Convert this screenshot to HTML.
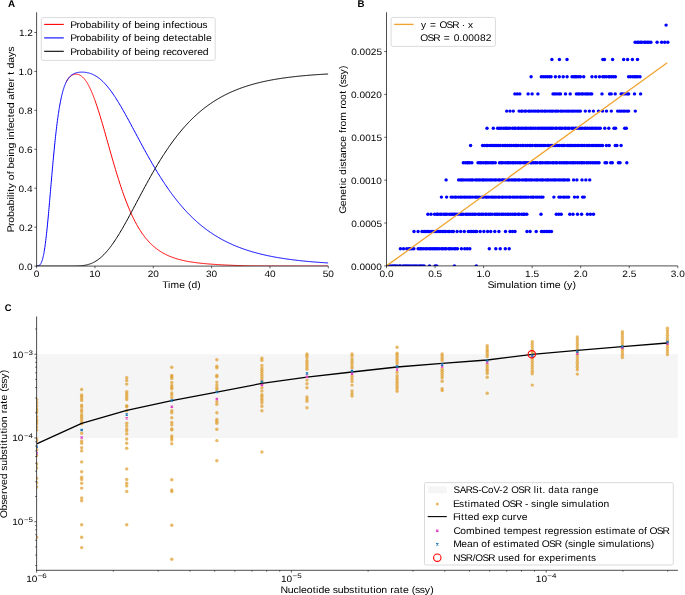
<!DOCTYPE html>
<html><head><meta charset="utf-8"><style>
html,body{margin:0;padding:0;background:#fff;width:685px;height:595px;overflow:hidden;}
svg{display:block;will-change:transform;}
text{font-family:"Liberation Sans",sans-serif;font-kerning:none;text-rendering:geometricPrecision;}
</style></head><body>
<svg width="685" height="595" viewBox="0 0 685 595">
<rect width="685" height="595" fill="#fff"/>
<defs><clipPath id="cA"><rect x="36.6" y="12.3" width="291.7" height="253.8"/></clipPath><clipPath id="cB"><rect x="386.5" y="12.3" width="291.3" height="253.6"/></clipPath><clipPath id="cC"><rect x="36.6" y="316.5" width="641.3" height="253.8"/></clipPath></defs>
<g clip-path="url(#cA)">
<polyline points="66.06,82.47 66.26,82.08 66.45,81.70 66.65,81.34 66.84,80.98 67.04,80.64 67.23,80.32 67.43,80.00 67.62,79.70 67.82,79.41 68.01,79.13 68.21,78.86 68.40,78.60 68.60,78.35 68.79,78.11 68.99,77.88 69.18,77.66 69.38,77.44 69.57,77.24 69.77,77.05 69.97,76.86 70.16,76.68 70.36,76.50 70.55,76.33 70.75,76.17 70.94,76.02 71.14,75.87 71.33,75.73 71.53,75.60 71.72,75.47 71.92,75.35 72.11,75.24 72.31,75.13 72.50,75.03 72.70,74.93 72.89,74.84 73.09,74.76 73.28,74.68 73.48,74.61 73.67,74.54 73.87,74.48 74.06,74.42 74.26,74.37 74.45,74.33 74.65,74.29 74.84,74.25 75.04,74.22 75.23,74.20 75.43,74.18 75.62,74.16 75.82,74.15 76.01,74.15 76.21,74.15 76.40,74.15 76.60,74.16 76.79,74.18 76.99,74.20 77.18,74.23 77.38,74.26 77.57,74.29 77.77,74.33 77.96,74.38 78.16,74.43 78.36,74.49 78.55,74.55 78.75,74.62 78.94,74.69 79.14,74.77 79.33,74.85 79.53,74.94 79.72,75.03 79.92,75.13 80.11,75.23 80.31,75.34 80.50,75.46 80.70,75.58 80.89,75.70 81.09,75.83 81.28,75.97 81.48,76.12 81.67,76.26 81.87,76.42 82.06,76.58 82.26,76.74 82.45,76.92 82.65,77.09 82.84,77.28 83.04,77.47 83.23,77.66 83.43,77.86 83.62,78.07 83.82,78.28 84.01,78.50 84.21,78.73 84.40,78.96 84.60,79.19 84.79,79.44 84.99,79.69 85.18,79.94 85.38,80.20 85.57,80.47 85.77,80.74 85.96,81.02 86.16,81.31 86.35,81.60 86.55,81.90 86.75,82.21 86.94,82.52 87.14,82.83 87.33,83.16 87.53,83.49 87.72,83.82 87.92,84.16 88.11,84.51 88.31,84.86 88.50,85.22 88.70,85.59 88.89,85.96 89.09,86.34 89.28,86.72 89.48,87.11 89.67,87.51 89.87,87.91 90.06,88.32 90.26,88.73 90.45,89.15 90.65,89.57 90.84,90.00 91.04,90.44 91.23,90.88 91.43,91.33 91.62,91.78 91.82,92.24 92.01,92.71 92.21,93.18 92.40,93.65 92.60,94.13 92.79,94.62 92.99,95.11 93.18,95.60 93.38,96.11 93.57,96.61 93.77,97.12 93.96,97.64 94.16,98.16 94.35,98.69 94.55,99.22 94.74,99.75 94.94,100.30 95.23,101.11 96.01,103.34 96.79,105.64 97.57,108.00 98.35,110.42 99.13,112.90 99.91,115.43 100.69,118.00 101.47,120.61 102.25,123.25 103.03,125.93 103.81,128.63 104.59,131.36 105.37,134.10 106.14,136.86 106.92,139.62 107.70,142.39 108.48,145.16 109.26,147.92 110.04,150.68 110.82,153.42 111.60,156.15 112.38,158.87 113.16,161.56 113.94,164.23 114.72,166.87 115.50,169.49 116.28,172.07 117.06,174.62 117.84,177.14 118.62,179.62 119.40,182.06 120.18,184.46 120.95,186.82 121.73,189.13 122.51,191.40 123.29,193.63 124.07,195.81 124.85,197.95 125.63,200.04 126.41,202.08 127.19,204.07 127.97,206.02 128.75,207.92 129.53,209.77 130.31,211.57 131.09,213.32 131.87,215.03 132.65,216.69 133.43,218.30 134.21,219.87 134.99,221.39 135.77,222.86 136.54,224.29 137.32,225.68 138.10,227.03 138.88,228.33 139.66,229.60 140.44,230.82 141.22,232.01 142.00,233.16 142.78,234.27 143.56,235.34 144.34,236.38 145.12,237.38 145.90,238.35 146.68,239.29 147.46,240.20 148.24,241.08 149.02,241.92 149.80,242.74 150.58,243.53 151.36,244.29 152.13,245.03 152.91,245.74 153.69,246.43 154.47,247.09 155.25,247.73 156.03,248.35 156.81,248.95 157.59,249.53 158.37,250.08 159.15,250.62 159.93,251.14 160.71,251.64 161.49,252.12 162.27,252.59 163.05,253.04 163.83,253.47 164.61,253.89 165.39,254.29 166.17,254.68 166.95,255.06 167.72,255.42 168.50,255.77 169.28,256.11 170.06,256.43 170.84,256.75 171.62,257.05 172.40,257.34 173.18,257.62 173.96,257.89 174.74,258.16 175.52,258.41 176.30,258.65 177.08,258.89 177.86,259.11 178.64,259.33 179.42,259.54 180.20,259.75 180.98,259.94 181.76,260.13 182.53,260.32 183.31,260.49 184.09,260.67 184.87,260.83 185.65,260.99 186.43,261.14 187.21,261.29 187.99,261.44 188.77,261.57 189.55,261.71 190.33,261.84 191.11,261.96 191.89,262.08 192.67,262.20 193.45,262.32 194.23,262.43 195.01,262.53 195.79,262.64 196.57,262.74 197.35,262.83 198.12,262.93 198.90,263.02 199.68,263.10 200.46,263.19 201.24,263.27 202.02,263.35 202.80,263.43 203.58,263.51 204.36,263.58 205.14,263.65 205.92,263.72 206.70,263.79 207.48,263.86 208.26,263.92 209.04,263.98 209.82,264.04 210.60,264.10 211.38,264.16 212.16,264.22 212.94,264.27 213.71,264.33 214.49,264.38 215.27,264.43 216.05,264.48 216.83,264.53 217.61,264.58 218.39,264.62 219.17,264.67 219.95,264.71 220.73,264.76 221.51,264.80 222.29,264.84 223.07,264.88 223.85,264.92 224.63,264.96 225.41,265.00 226.19,265.04 226.97,265.07 227.75,265.11 228.52,265.14 229.30,265.18 230.08,265.21 230.86,265.24 231.64,265.28 232.42,265.31 233.20,265.34 233.98,265.37 234.76,265.40 235.54,265.43 236.32,265.46 237.10,265.49 237.88,265.52 238.66,265.54 239.44,265.57 240.22,265.60 241.00,265.64 241.78,265.68 242.56,265.71 243.34,265.74 244.11,265.77 244.89,265.80 245.67,265.82 246.45,265.84 247.23,265.86 248.01,265.88 248.79,265.89 249.57,265.90 250.35,265.91 251.13,265.92 251.91,265.92 252.69,265.93 253.47,265.94 254.25,265.94 255.03,265.95 255.81,265.95 256.59,265.96 257.37,265.96 258.15,265.97 258.93,265.97 259.70,265.98 260.48,265.98 261.26,265.98 262.04,265.99 262.82,265.99 263.60,266.00 264.38,266.00 265.16,266.00 265.94,266.01 266.72,266.01 267.50,266.01 268.28,266.02 269.06,266.02 269.84,266.02 270.62,266.02 271.40,266.03 272.18,266.03 272.96,266.03 273.74,266.03 274.52,266.04 275.29,266.04 276.07,266.04 276.85,266.04 277.63,266.04 278.41,266.05 279.19,266.05 279.97,266.05 280.75,266.05 281.53,266.05 282.31,266.06 283.09,266.06 283.87,266.06 284.65,266.06 285.43,266.06 286.21,266.06 286.99,266.06 287.77,266.06 288.55,266.07 289.33,266.07 290.10,266.07 290.88,266.07 291.66,266.07 292.44,266.07 293.22,266.07 294.00,266.07 294.78,266.07 295.56,266.08 296.34,266.08 297.12,266.08 297.90,266.08 298.68,266.08 299.46,266.08 300.24,266.08 301.02,266.08 301.80,266.08 302.58,266.08 303.36,266.08 304.14,266.08 304.92,266.08 305.69,266.08 306.47,266.08 307.25,266.08 308.03,266.09 308.81,266.09 309.59,266.09 310.37,266.09 311.15,266.09 311.93,266.09 312.71,266.09 313.49,266.09 314.27,266.09 315.05,266.09 315.83,266.09 316.61,266.09 317.39,266.09 318.17,266.09 318.95,266.09 319.73,266.09 320.51,266.09 321.28,266.09 322.06,266.09 322.84,266.09 323.62,266.09 324.40,266.09 325.18,266.09 325.96,266.09 326.74,266.09 327.52,266.09 328.30,266.09" fill="none" stroke="#ff0000" stroke-width="1.0" stroke-linejoin="round" stroke-linecap="butt"/>
<polyline points="36.60,266.06 36.80,266.05 36.99,266.04 37.19,266.02 37.38,266.00 37.58,265.97 37.77,265.94 37.97,265.90 38.16,265.85 38.36,265.80 38.55,265.73 38.75,265.65 38.94,265.56 39.14,265.45 39.33,265.33 39.53,265.19 39.72,265.02 39.92,264.84 40.11,264.63 40.31,264.40 40.50,264.14 40.70,263.85 40.89,263.53 41.09,263.17 41.28,262.78 41.48,262.34 41.67,261.87 41.87,261.36 42.06,260.80 42.26,260.20 42.45,259.55 42.65,258.85 42.84,258.10 43.04,257.30 43.23,256.45 43.43,255.55 43.62,254.59 43.82,253.57 44.01,252.50 44.21,251.38 44.40,250.19 44.60,248.96 44.79,247.66 44.99,246.31 45.19,244.91 45.38,243.45 45.58,241.94 45.77,240.37 45.97,238.75 46.16,237.09 46.36,235.37 46.55,233.61 46.75,231.80 46.94,229.94 47.14,228.05 47.33,226.11 47.53,224.14 47.72,222.13 47.92,220.09 48.11,218.01 48.31,215.90 48.50,213.77 48.70,211.61 48.89,209.43 49.09,207.23 49.28,205.01 49.48,202.78 49.67,200.53 49.87,198.27 50.06,196.01 50.26,193.73 50.45,191.46 50.65,189.18 50.84,186.90 51.04,184.62 51.23,182.35 51.43,180.08 51.62,177.82 51.82,175.57 52.01,173.34 52.21,171.11 52.40,168.90 52.60,166.71 52.79,164.54 52.99,162.39 53.18,160.25 53.38,158.14 53.58,156.05 53.77,153.99 53.97,151.95 54.16,149.94 54.36,147.95 54.55,146.00 54.75,144.07 54.94,142.17 55.14,140.30 55.33,138.46 55.53,136.65 55.72,134.88 55.92,133.13 56.11,131.42 56.31,129.74 56.50,128.09 56.70,126.48 56.89,124.90 57.09,123.35 57.28,121.83 57.48,120.35 57.67,118.89 57.87,117.48 58.06,116.09 58.26,114.73 58.45,113.41 58.65,112.12 58.84,110.86 59.04,109.63 59.23,108.43 59.43,107.27 59.62,106.13 59.82,105.02 60.01,103.94 60.21,102.89 60.40,101.87 60.60,100.87 60.79,99.91 60.99,98.97 61.18,98.05 61.38,97.16 61.57,96.30 61.77,95.46 61.97,94.65 62.16,93.86 62.36,93.10 62.55,92.35 62.75,91.63 62.94,90.93 63.14,90.26 63.33,89.60 63.53,88.96 63.72,88.35 63.92,87.75 64.11,87.17 64.31,86.61 64.50,86.07 64.70,85.55 64.89,85.04 65.09,84.55 65.28,84.08 65.48,83.62 65.67,83.17 65.87,82.75 66.06,82.33 66.26,81.93 66.45,81.55 66.65,81.17 66.84,80.81 67.04,80.46 67.23,80.13 67.43,79.80 67.62,79.49 67.82,79.19 68.01,78.90 68.21,78.61 68.40,78.34 68.60,78.08 68.79,77.83 68.99,77.58 69.18,77.35 69.38,77.12 69.57,76.91 69.77,76.70 69.97,76.49 70.16,76.30 70.36,76.11 70.55,75.93 70.75,75.76 70.94,75.59 71.14,75.43 71.33,75.27 71.53,75.12 71.72,74.98 71.92,74.84 72.11,74.71 72.31,74.58 72.50,74.45 72.70,74.34 72.89,74.22 73.09,74.11 73.28,74.01 73.48,73.91 73.67,73.81 73.87,73.72 74.06,73.63 74.26,73.54 74.45,73.46 74.65,73.38 74.84,73.30 75.04,73.23 75.23,73.16 75.43,73.10 75.62,73.03 75.82,72.97 76.01,72.91 76.21,72.86 76.40,72.80 76.60,72.75 76.79,72.71 76.99,72.66 77.18,72.62 77.38,72.58 77.57,72.54 77.77,72.50 77.96,72.46 78.16,72.43 78.36,72.40 78.55,72.37 78.75,72.34 78.94,72.32 79.14,72.29 79.33,72.27 79.53,72.25 79.72,72.23 79.92,72.22 80.11,72.20 80.31,72.19 80.50,72.17 80.70,72.16 80.89,72.16 81.09,72.15 81.28,72.14 81.48,72.14 81.67,72.13 81.87,72.13 82.06,72.13 82.26,72.13 82.45,72.14 82.65,72.14 82.84,72.15 83.04,72.15 83.23,72.16 83.43,72.17 83.62,72.18 83.82,72.20 84.01,72.21 84.21,72.23 84.40,72.24 84.60,72.26 84.79,72.28 84.99,72.30 85.18,72.33 85.38,72.35 85.57,72.38 85.77,72.40 85.96,72.43 86.16,72.46 86.35,72.49 86.55,72.53 86.75,72.56 86.94,72.60 87.14,72.63 87.33,72.67 87.53,72.71 87.72,72.76 87.92,72.80 88.11,72.84 88.31,72.89 88.50,72.94 88.70,72.99 88.89,73.04 89.09,73.09 89.28,73.15 89.48,73.21 89.67,73.26 89.87,73.32 90.06,73.39 90.26,73.45 90.45,73.51 90.65,73.58 90.84,73.65 91.04,73.72 91.23,73.79 91.43,73.86 91.62,73.94 91.82,74.02 92.01,74.10 92.21,74.18 92.40,74.26 92.60,74.34 92.79,74.43 92.99,74.52 93.18,74.61 93.38,74.70 93.57,74.79 93.77,74.89 93.96,74.99 94.16,75.09 94.35,75.19 94.55,75.29 94.74,75.39 94.94,75.50 95.23,75.67 96.01,76.12 96.79,76.61 97.57,77.14 98.35,77.69 99.13,78.27 99.91,78.89 100.69,79.54 101.47,80.23 102.25,80.94 103.03,81.69 103.81,82.47 104.59,83.28 105.37,84.12 106.14,84.99 106.92,85.90 107.70,86.83 108.48,87.79 109.26,88.78 110.04,89.80 110.82,90.84 111.60,91.92 112.38,93.01 113.16,94.14 113.94,95.28 114.72,96.45 115.50,97.65 116.28,98.86 117.06,100.09 117.84,101.35 118.62,102.62 119.40,103.91 120.18,105.22 120.95,106.54 121.73,107.88 122.51,109.23 123.29,110.60 124.07,111.98 124.85,113.37 125.63,114.77 126.41,116.18 127.19,117.60 127.97,119.02 128.75,120.46 129.53,121.90 130.31,123.34 131.09,124.80 131.87,126.25 132.65,127.71 133.43,129.17 134.21,130.63 134.99,132.09 135.77,133.56 136.54,135.02 137.32,136.48 138.10,137.94 138.88,139.40 139.66,140.86 140.44,142.31 141.22,143.76 142.00,145.21 142.78,146.65 143.56,148.08 144.34,149.51 145.12,150.93 145.90,152.35 146.68,153.76 147.46,155.16 148.24,156.56 149.02,157.94 149.80,159.32 150.58,160.69 151.36,162.05 152.13,163.40 152.91,164.74 153.69,166.08 154.47,167.40 155.25,168.71 156.03,170.01 156.81,171.30 157.59,172.58 158.37,173.85 159.15,175.10 159.93,176.35 160.71,177.58 161.49,178.81 162.27,180.02 163.05,181.22 163.83,182.40 164.61,183.58 165.39,184.74 166.17,185.89 166.95,187.03 167.72,188.16 168.50,189.28 169.28,190.38 170.06,191.47 170.84,192.55 171.62,193.61 172.40,194.67 173.18,195.71 173.96,196.74 174.74,197.75 175.52,198.76 176.30,199.75 177.08,200.73 177.86,201.70 178.64,202.66 179.42,203.60 180.20,204.53 180.98,205.45 181.76,206.36 182.53,207.26 183.31,208.15 184.09,209.02 184.87,209.88 185.65,210.73 186.43,211.57 187.21,212.40 187.99,213.22 188.77,214.03 189.55,214.82 190.33,215.61 191.11,216.38 191.89,217.14 192.67,217.89 193.45,218.64 194.23,219.37 195.01,220.09 195.79,220.80 196.57,221.50 197.35,222.19 198.12,222.87 198.90,223.54 199.68,224.20 200.46,224.85 201.24,225.50 202.02,226.13 202.80,226.75 203.58,227.37 204.36,227.97 205.14,228.57 205.92,229.16 206.70,229.74 207.48,230.31 208.26,230.87 209.04,231.42 209.82,231.96 210.60,232.50 211.38,233.03 212.16,233.55 212.94,234.06 213.71,234.57 214.49,235.07 215.27,235.55 216.05,236.04 216.83,236.51 217.61,236.98 218.39,237.44 219.17,237.89 219.95,238.34 220.73,238.78 221.51,239.21 222.29,239.64 223.07,240.05 223.85,240.47 224.63,240.87 225.41,241.27 226.19,241.67 226.97,242.05 227.75,242.43 228.52,242.81 229.30,243.18 230.08,243.54 230.86,243.90 231.64,244.25 232.42,244.60 233.20,244.94 233.98,245.28 234.76,245.61 235.54,245.93 236.32,246.25 237.10,246.57 237.88,246.88 238.66,247.18 239.44,247.48 240.22,247.78 241.00,248.07 241.78,248.35 242.56,248.63 243.34,248.91 244.11,249.18 244.89,249.45 245.67,249.72 246.45,249.98 247.23,250.23 248.01,250.48 248.79,250.73 249.57,250.97 250.35,251.21 251.13,251.45 251.91,251.68 252.69,251.91 253.47,252.13 254.25,252.35 255.03,252.57 255.81,252.78 256.59,252.99 257.37,253.20 258.15,253.40 258.93,253.61 259.70,253.80 260.48,254.00 261.26,254.19 262.04,254.37 262.82,254.56 263.60,254.74 264.38,254.92 265.16,255.10 265.94,255.27 266.72,255.44 267.50,255.61 268.28,255.77 269.06,255.93 269.84,256.09 270.62,256.25 271.40,256.40 272.18,256.56 272.96,256.71 273.74,256.85 274.52,257.00 275.29,257.14 276.07,257.28 276.85,257.42 277.63,257.55 278.41,257.69 279.19,257.82 279.97,257.95 280.75,258.07 281.53,258.20 282.31,258.32 283.09,258.44 283.87,258.56 284.65,258.68 285.43,258.79 286.21,258.91 286.99,259.02 287.77,259.13 288.55,259.24 289.33,259.34 290.10,259.45 290.88,259.55 291.66,259.65 292.44,259.75 293.22,259.85 294.00,259.95 294.78,260.04 295.56,260.14 296.34,260.23 297.12,260.32 297.90,260.41 298.68,260.49 299.46,260.58 300.24,260.67 301.02,260.75 301.80,260.83 302.58,260.91 303.36,260.99 304.14,261.07 304.92,261.15 305.69,261.22 306.47,261.30 307.25,261.37 308.03,261.44 308.81,261.51 309.59,261.58 310.37,261.65 311.15,261.72 311.93,261.79 312.71,261.85 313.49,261.92 314.27,261.98 315.05,262.04 315.83,262.10 316.61,262.16 317.39,262.22 318.17,262.28 318.95,262.34 319.73,262.40 320.51,262.45 321.28,262.51 322.06,262.56 322.84,262.62 323.62,262.67 324.40,262.72 325.18,262.77 325.96,262.82 326.74,262.87 327.52,262.92 328.30,262.97" fill="none" stroke="#0000ff" stroke-width="1.0" stroke-linejoin="round" stroke-linecap="butt"/>
<polyline points="36.60,266.10 36.80,266.10 36.99,266.10 37.19,266.10 37.38,266.10 37.58,266.10 37.77,266.10 37.97,266.10 38.16,266.10 38.36,266.10 38.55,266.10 38.75,266.10 38.94,266.10 39.14,266.10 39.33,266.10 39.53,266.10 39.72,266.10 39.92,266.10 40.11,266.10 40.31,266.10 40.50,266.10 40.70,266.10 40.89,266.10 41.09,266.10 41.28,266.10 41.48,266.10 41.67,266.10 41.87,266.10 42.06,266.10 42.26,266.10 42.45,266.10 42.65,266.10 42.84,266.10 43.04,266.10 43.23,266.10 43.43,266.10 43.62,266.10 43.82,266.10 44.01,266.10 44.21,266.10 44.40,266.10 44.60,266.10 44.79,266.10 44.99,266.10 45.19,266.10 45.38,266.10 45.58,266.10 45.77,266.10 45.97,266.10 46.16,266.10 46.36,266.10 46.55,266.10 46.75,266.10 46.94,266.10 47.14,266.10 47.33,266.10 47.53,266.10 47.72,266.10 47.92,266.10 48.11,266.10 48.31,266.10 48.50,266.10 48.70,266.10 48.89,266.10 49.09,266.10 49.28,266.10 49.48,266.10 49.67,266.10 49.87,266.10 50.06,266.10 50.26,266.10 50.45,266.10 50.65,266.10 50.84,266.10 51.04,266.10 51.23,266.10 51.43,266.10 51.62,266.10 51.82,266.10 52.01,266.10 52.21,266.10 52.40,266.10 52.60,266.10 52.79,266.10 52.99,266.10 53.18,266.10 53.38,266.10 53.58,266.10 53.77,266.10 53.97,266.10 54.16,266.10 54.36,266.10 54.55,266.10 54.75,266.10 54.94,266.10 55.14,266.10 55.33,266.10 55.53,266.10 55.72,266.10 55.92,266.10 56.11,266.10 56.31,266.10 56.50,266.10 56.70,266.10 56.89,266.10 57.09,266.10 57.28,266.10 57.48,266.10 57.67,266.10 57.87,266.10 58.06,266.10 58.26,266.10 58.45,266.10 58.65,266.10 58.84,266.10 59.04,266.10 59.23,266.10 59.43,266.10 59.62,266.10 59.82,266.10 60.01,266.10 60.21,266.10 60.40,266.10 60.60,266.10 60.79,266.10 60.99,266.10 61.18,266.10 61.38,266.10 61.57,266.10 61.77,266.10 61.97,266.10 62.16,266.10 62.36,266.10 62.55,266.10 62.75,266.10 62.94,266.10 63.14,266.10 63.33,266.10 63.53,266.10 63.72,266.10 63.92,266.10 64.11,266.10 64.31,266.10 64.50,266.10 64.70,266.10 64.89,266.10 65.09,266.10 65.28,266.10 65.48,266.10 65.67,266.10 65.87,266.10 66.06,266.10 66.26,266.10 66.45,266.10 66.65,266.10 66.84,266.10 67.04,266.10 67.23,266.10 67.43,266.10 67.62,266.10 67.82,266.10 68.01,266.10 68.21,266.10 68.40,266.10 68.60,266.10 68.79,266.10 68.99,266.10 69.18,266.10 69.38,266.10 69.57,266.10 69.77,266.10 69.97,266.10 70.16,266.09 70.36,266.09 70.55,266.09 70.75,266.09 70.94,266.09 71.14,266.09 71.33,266.09 71.53,266.09 71.72,266.09 71.92,266.09 72.11,266.09 72.31,266.08 72.50,266.08 72.70,266.08 72.89,266.08 73.09,266.08 73.28,266.07 73.48,266.07 73.67,266.07 73.87,266.07 74.06,266.06 74.26,266.06 74.45,266.06 74.65,266.05 74.84,266.05 75.04,266.05 75.23,266.04 75.43,266.04 75.62,266.03 75.82,266.03 76.01,266.02 76.21,266.02 76.40,266.01 76.60,266.01 76.79,266.00 76.99,265.99 77.18,265.99 77.38,265.98 77.57,265.97 77.77,265.96 77.96,265.95 78.16,265.95 78.36,265.94 78.55,265.93 78.75,265.92 78.94,265.90 79.14,265.89 79.33,265.88 79.53,265.87 79.72,265.86 79.92,265.84 80.11,265.83 80.31,265.81 80.50,265.80 80.70,265.78 80.89,265.76 81.09,265.75 81.28,265.73 81.48,265.71 81.67,265.69 81.87,265.67 82.06,265.65 82.26,265.63 82.45,265.60 82.65,265.58 82.84,265.56 83.04,265.53 83.23,265.50 83.43,265.48 83.62,265.45 83.82,265.42 84.01,265.39 84.21,265.36 84.40,265.33 84.60,265.29 84.79,265.26 84.99,265.23 85.18,265.19 85.38,265.15 85.57,265.12 85.77,265.08 85.96,265.04 86.16,264.99 86.35,264.95 86.55,264.91 86.75,264.86 86.94,264.82 87.14,264.77 87.33,264.72 87.53,264.67 87.72,264.62 87.92,264.57 88.11,264.51 88.31,264.46 88.50,264.40 88.70,264.34 88.89,264.28 89.09,264.22 89.28,264.16 89.48,264.10 89.67,264.03 89.87,263.96 90.06,263.90 90.26,263.83 90.45,263.76 90.65,263.68 90.84,263.61 91.04,263.53 91.23,263.46 91.43,263.38 91.62,263.30 91.82,263.21 92.01,263.13 92.21,263.05 92.40,262.96 92.60,262.87 92.79,262.78 92.99,262.69 93.18,262.59 93.38,262.50 93.57,262.40 93.77,262.30 93.96,262.20 94.16,262.10 94.35,261.99 94.55,261.89 94.74,261.78 94.94,261.67 95.23,261.50 96.01,261.04 96.79,260.54 97.57,260.01 98.35,259.46 99.13,258.87 99.91,258.25 100.69,257.61 101.47,256.93 102.25,256.22 103.03,255.48 103.81,254.71 104.59,253.90 105.37,253.07 106.14,252.21 106.92,251.32 107.70,250.40 108.48,249.45 109.26,248.47 110.04,247.47 110.82,246.44 111.60,245.38 112.38,244.30 113.16,243.19 113.94,242.06 114.72,240.90 115.50,239.73 116.28,238.53 117.06,237.31 117.84,236.07 118.62,234.81 119.40,233.53 120.18,232.23 120.95,230.92 121.73,229.59 122.51,228.25 123.29,226.89 124.07,225.52 124.85,224.14 125.63,222.74 126.41,221.34 127.19,219.92 127.97,218.50 128.75,217.07 129.53,215.63 130.31,214.18 131.09,212.73 131.87,211.28 132.65,209.82 133.43,208.35 134.21,206.89 134.99,205.42 135.77,203.95 136.54,202.48 137.32,201.00 138.10,199.53 138.88,198.07 139.66,196.60 140.44,195.13 141.22,193.67 142.00,192.21 142.78,190.76 143.56,189.31 144.34,187.87 145.12,186.43 145.90,184.99 146.68,183.57 147.46,182.15 148.24,180.73 149.02,179.33 149.80,177.93 150.58,176.54 151.36,175.16 152.13,173.79 152.91,172.43 153.69,171.08 154.47,169.73 155.25,168.40 156.03,167.08 156.81,165.77 157.59,164.47 158.37,163.18 159.15,161.90 159.93,160.63 160.71,159.37 161.49,158.13 162.27,156.89 163.05,155.67 163.83,154.46 164.61,153.27 165.39,152.08 166.17,150.91 166.95,149.75 167.72,148.60 168.50,147.46 169.28,146.34 170.06,145.22 170.84,144.13 171.62,143.04 172.40,141.96 173.18,140.90 173.96,139.85 174.74,138.82 175.52,137.79 176.30,136.78 177.08,135.78 177.86,134.80 178.64,133.82 179.42,132.86 180.20,131.91 180.98,130.97 181.76,130.04 182.53,129.13 183.31,128.23 184.09,127.34 184.87,126.46 185.65,125.60 186.43,124.74 187.21,123.90 187.99,123.07 188.77,122.25 189.55,121.44 190.33,120.64 191.11,119.86 191.89,119.08 192.67,118.32 193.45,117.57 194.23,116.83 195.01,116.10 195.79,115.37 196.57,114.66 197.35,113.97 198.12,113.28 198.90,112.60 199.68,111.93 200.46,111.27 201.24,110.62 202.02,109.98 202.80,109.35 203.58,108.73 204.36,108.12 205.14,107.52 205.92,106.92 206.70,106.34 207.48,105.77 208.26,105.20 209.04,104.64 209.82,104.10 210.60,103.56 211.38,103.03 212.16,102.50 212.94,101.99 213.71,101.48 214.49,100.98 215.27,100.49 216.05,100.01 216.83,99.53 217.61,99.07 218.39,98.61 219.17,98.15 219.95,97.71 220.73,97.27 221.51,96.84 222.29,96.41 223.07,96.00 223.85,95.59 224.63,95.18 225.41,94.78 226.19,94.39 226.97,94.01 227.75,93.63 228.52,93.26 229.30,92.89 230.08,92.53 230.86,92.18 231.64,91.83 232.42,91.49 233.20,91.15 233.98,90.82 234.76,90.49 235.54,90.17 236.32,89.86 237.10,89.55 237.88,89.24 238.66,88.94 239.44,88.65 240.22,88.36 241.00,88.07 241.78,87.79 242.56,87.52 243.34,87.25 244.11,86.98 244.89,86.72 245.67,86.46 246.45,86.21 247.23,85.96 248.01,85.71 248.79,85.47 249.57,85.24 250.35,85.00 251.13,84.78 251.91,84.55 252.69,84.33 253.47,84.11 254.25,83.90 255.03,83.69 255.81,83.48 256.59,83.28 257.37,83.08 258.15,82.88 258.93,82.69 259.70,82.50 260.48,82.32 261.26,82.13 262.04,81.95 262.82,81.78 263.60,81.60 264.38,81.43 265.16,81.26 265.94,81.10 266.72,80.93 267.50,80.77 268.28,80.62 269.06,80.46 269.84,80.31 270.62,80.16 271.40,80.02 272.18,79.87 272.96,79.73 273.74,79.59 274.52,79.45 275.29,79.32 276.07,79.19 276.85,79.06 277.63,78.93 278.41,78.80 279.19,78.68 279.97,78.56 280.75,78.44 281.53,78.32 282.31,78.21 283.09,78.09 283.87,77.98 284.65,77.87 285.43,77.77 286.21,77.66 286.99,77.56 287.77,77.45 288.55,77.35 289.33,77.26 290.10,77.16 290.88,77.06 291.66,76.97 292.44,76.88 293.22,76.79 294.00,76.70 294.78,76.61 295.56,76.52 296.34,76.44 297.12,76.36 297.90,76.27 298.68,76.19 299.46,76.11 300.24,76.04 301.02,75.96 301.80,75.89 302.58,75.81 303.36,75.74 304.14,75.67 304.92,75.60 305.69,75.53 306.47,75.46 307.25,75.39 308.03,75.33 308.81,75.26 309.59,75.20 310.37,75.14 311.15,75.08 311.93,75.02 312.71,74.96 313.49,74.90 314.27,74.84 315.05,74.79 315.83,74.73 316.61,74.68 317.39,74.62 318.17,74.57 318.95,74.52 319.73,74.47 320.51,74.42 321.28,74.37 322.06,74.32 322.84,74.28 323.62,74.23 324.40,74.18 325.18,74.14 325.96,74.09 326.74,74.05 327.52,74.01 328.30,73.97" fill="none" stroke="#000000" stroke-width="1.0" stroke-linejoin="round" stroke-linecap="butt"/>
</g>
<line x1="36.6" y1="12.3" x2="36.6" y2="266.45" stroke="#000" stroke-width="0.7"/>
<line x1="36.25" y1="266.1" x2="328.3" y2="266.1" stroke="#000" stroke-width="0.7"/>
<line x1="36.6" y1="266.1" x2="36.6" y2="268.4" stroke="#000" stroke-width="0.6"/>
<text transform="translate(36.6,277.2) scale(1.0895,1)" x="-2.57" y="0" font-size="9.24" fill="#000">0</text>
<line x1="94.94" y1="266.1" x2="94.94" y2="268.4" stroke="#000" stroke-width="0.6"/>
<text transform="translate(94.94,277.2) scale(1.0895,1)" x="-5.31 -0.18" y="0" font-size="9.24" fill="#000">10</text>
<line x1="153.28" y1="266.1" x2="153.28" y2="268.4" stroke="#000" stroke-width="0.6"/>
<text transform="translate(153.28,277.2) scale(1.0895,1)" x="-5.17 -0.03" y="0" font-size="9.24" fill="#000">20</text>
<line x1="211.62" y1="266.1" x2="211.62" y2="268.4" stroke="#000" stroke-width="0.6"/>
<text transform="translate(211.62,277.2) scale(1.0895,1)" x="-5.18 -0.04" y="0" font-size="9.24" fill="#000">30</text>
<line x1="269.96" y1="266.1" x2="269.96" y2="268.4" stroke="#000" stroke-width="0.6"/>
<text transform="translate(269.96,277.2) scale(1.0895,1)" x="-5.07 0.07" y="0" font-size="9.24" fill="#000">40</text>
<line x1="328.3" y1="266.1" x2="328.3" y2="268.4" stroke="#000" stroke-width="0.6"/>
<text transform="translate(328.3,277.2) scale(1.0895,1)" x="-5.18 -0.04" y="0" font-size="9.24" fill="#000">50</text>
<line x1="34.3" y1="266.1" x2="36.6" y2="266.1" stroke="#000" stroke-width="0.6"/>
<text transform="translate(32,269.7) scale(1.0895,1)" x="-12.31 -7.17 -4.6" y="0" font-size="9.24" fill="#000">0.0</text>
<line x1="34.3" y1="227.16" x2="36.6" y2="227.16" stroke="#000" stroke-width="0.6"/>
<text transform="translate(32,230.76) scale(1.0895,1)" x="-12.04 -6.9 -4.33" y="0" font-size="9.24" fill="#000">0.2</text>
<line x1="34.3" y1="188.22" x2="36.6" y2="188.22" stroke="#000" stroke-width="0.6"/>
<text transform="translate(32,191.82) scale(1.0895,1)" x="-12.39 -7.25 -4.69" y="0" font-size="9.24" fill="#000">0.4</text>
<line x1="34.3" y1="149.28" x2="36.6" y2="149.28" stroke="#000" stroke-width="0.6"/>
<text transform="translate(32,152.88) scale(1.0895,1)" x="-12.34 -7.2 -4.63" y="0" font-size="9.24" fill="#000">0.6</text>
<line x1="34.3" y1="110.34" x2="36.6" y2="110.34" stroke="#000" stroke-width="0.6"/>
<text transform="translate(32,113.94) scale(1.0895,1)" x="-12.29 -7.15 -4.59" y="0" font-size="9.24" fill="#000">0.8</text>
<line x1="34.3" y1="71.4" x2="36.6" y2="71.4" stroke="#000" stroke-width="0.6"/>
<text transform="translate(32,75) scale(1.0895,1)" x="-12.31 -7.17 -4.6" y="0" font-size="9.24" fill="#000">1.0</text>
<line x1="34.3" y1="32.46" x2="36.6" y2="32.46" stroke="#000" stroke-width="0.6"/>
<text transform="translate(32,36.06) scale(1.0895,1)" x="-12.04 -6.9 -4.33" y="0" font-size="9.24" fill="#000">1.2</text>
<text transform="translate(181.3,288.4) scale(1.0696,1)" x="-17.86 -12.44 -10.02 -1.87 3.47 6.24 9.56 15.02" y="0" font-size="9.63" fill="#000">Time (d)</text>
<text transform="translate(13.6,138.95) rotate(-90) scale(1.0956,1)" x="-85.19 -79.49 -76.46 -71.25 -66.03 -60.81 -55.38 -53.05 -50.73 -48.19 -45.14 -40.27 -37.72 -32.34 -29.54 -26.89 -21.66 -16.31 -14.11 -8.8 -3.47 -0.71 1.5 6.96 9.67 14.82 19.83 22.7 27.94 33.26 35.82 41.2 44.16 47.04 52.41 55.73 58.7 61.67 64.31 69.54 74.85 79.5" y="0" font-size="9.63" fill="#000">Probability of being infected after t days</text>
<text transform="translate(8.1,6.9) scale(1.0206,1)" x="-0.04" y="0" font-size="9.66" font-weight="bold" fill="#000">A</text>
<rect x="41.3" y="17.6" width="173.9" height="42.8" rx="1.8" ry="1.8" fill="#fff" fill-opacity="0.8" stroke="#cccccc" stroke-width="0.7"/>
<line x1="44.2" y1="24.4" x2="63.8" y2="24.4" stroke="#ff0000" stroke-width="1.1"/>
<text transform="translate(71.9,27.6) scale(1.0884,1)" x="-1.5 4.23 7.28 12.54 17.79 23.05 28.5 30.84 33.18 35.74 38.81 43.71 46.29 51.69 54.51 57.18 62.45 67.82 70.05 75.4 80.75 83.53 85.76 91.25 93.99 99.17 104.2 107.29 109.43 114.68 119.82" y="0" font-size="9.63" fill="#000">Probability of being infectious</text>
<line x1="44.2" y1="37.9" x2="63.8" y2="37.9" stroke="#0000ff" stroke-width="1.1"/>
<text transform="translate(71.9,41.1) scale(1.0904,1)" x="-1.5 4.22 7.27 12.51 17.75 23 28.44 30.78 33.12 35.67 38.73 43.63 46.2 51.59 54.41 57.07 62.33 67.69 69.92 75.25 80.6 83.26 88.52 94.09 96.99 102.16 107.19 110.07 115.32 120.77 122.91" y="0" font-size="9.63" fill="#000">Probability of being detectable</text>
<line x1="44.2" y1="51.3" x2="63.8" y2="51.3" stroke="#000000" stroke-width="1.1"/>
<text transform="translate(71.9,54.5) scale(1.0807,1)" x="-1.49 4.28 7.36 12.64 17.94 23.23 28.71 31.07 33.43 36 39.1 44.03 46.64 52.07 54.91 57.61 62.91 68.31 70.57 75.95 81.34 84.16 87.26 92.47 97.13 102.5 107.36 112.78 115.88 121.18" y="0" font-size="9.63" fill="#000">Probability of being recovered</text>
<g clip-path="url(#cB)" fill="#0000ff">
<circle cx="388.42" cy="265.90" r="1.72"/>
<circle cx="390.32" cy="265.90" r="1.72"/>
<circle cx="392.34" cy="265.90" r="1.72"/>
<circle cx="394.02" cy="265.90" r="1.72"/>
<circle cx="395.30" cy="265.90" r="1.72"/>
<circle cx="397.16" cy="265.90" r="1.72"/>
<circle cx="399.45" cy="265.90" r="1.72"/>
<circle cx="400.46" cy="265.90" r="1.72"/>
<circle cx="402.97" cy="265.90" r="1.72"/>
<circle cx="404.73" cy="265.90" r="1.72"/>
<circle cx="406.22" cy="265.90" r="1.72"/>
<circle cx="407.86" cy="265.90" r="1.72"/>
<circle cx="409.62" cy="265.90" r="1.72"/>
<circle cx="411.38" cy="265.90" r="1.72"/>
<circle cx="413.33" cy="265.90" r="1.72"/>
<circle cx="415.17" cy="265.90" r="1.72"/>
<circle cx="417.00" cy="265.90" r="1.72"/>
<circle cx="419.18" cy="265.90" r="1.72"/>
<circle cx="420.78" cy="265.90" r="1.72"/>
<circle cx="422.41" cy="265.90" r="1.72"/>
<circle cx="424.08" cy="265.90" r="1.72"/>
<circle cx="429.50" cy="265.90" r="1.72"/>
<circle cx="435.05" cy="265.90" r="1.72"/>
<circle cx="436.65" cy="265.90" r="1.72"/>
<circle cx="454.40" cy="265.90" r="1.72"/>
<circle cx="476.30" cy="265.90" r="1.72"/>
<circle cx="400.40" cy="248.70" r="1.72"/>
<circle cx="403.50" cy="248.70" r="1.72"/>
<circle cx="406.72" cy="248.70" r="1.72"/>
<circle cx="408.95" cy="248.70" r="1.72"/>
<circle cx="410.04" cy="248.70" r="1.72"/>
<circle cx="411.78" cy="248.70" r="1.72"/>
<circle cx="413.88" cy="248.70" r="1.72"/>
<circle cx="418.12" cy="248.70" r="1.72"/>
<circle cx="420.01" cy="248.70" r="1.72"/>
<circle cx="421.29" cy="248.70" r="1.72"/>
<circle cx="423.07" cy="248.70" r="1.72"/>
<circle cx="425.29" cy="248.70" r="1.72"/>
<circle cx="427.04" cy="248.70" r="1.72"/>
<circle cx="429.23" cy="248.70" r="1.72"/>
<circle cx="430.76" cy="248.70" r="1.72"/>
<circle cx="432.45" cy="248.70" r="1.72"/>
<circle cx="434.22" cy="248.70" r="1.72"/>
<circle cx="435.78" cy="248.70" r="1.72"/>
<circle cx="437.36" cy="248.70" r="1.72"/>
<circle cx="439.31" cy="248.70" r="1.72"/>
<circle cx="441.55" cy="248.70" r="1.72"/>
<circle cx="442.90" cy="248.70" r="1.72"/>
<circle cx="444.84" cy="248.70" r="1.72"/>
<circle cx="446.30" cy="248.70" r="1.72"/>
<circle cx="448.83" cy="248.70" r="1.72"/>
<circle cx="450.01" cy="248.70" r="1.72"/>
<circle cx="451.90" cy="248.70" r="1.72"/>
<circle cx="454.24" cy="248.70" r="1.72"/>
<circle cx="455.70" cy="248.70" r="1.72"/>
<circle cx="457.48" cy="248.70" r="1.72"/>
<circle cx="461.40" cy="248.70" r="1.72"/>
<circle cx="464.70" cy="248.70" r="1.72"/>
<circle cx="467.25" cy="248.70" r="1.72"/>
<circle cx="469.80" cy="248.70" r="1.72"/>
<circle cx="489.30" cy="248.70" r="1.72"/>
<circle cx="495.80" cy="248.70" r="1.72"/>
<circle cx="500.20" cy="248.70" r="1.72"/>
<circle cx="505.30" cy="248.70" r="1.72"/>
<circle cx="509.20" cy="248.70" r="1.72"/>
<circle cx="414.00" cy="231.50" r="1.72"/>
<circle cx="418.10" cy="231.50" r="1.72"/>
<circle cx="422.02" cy="231.50" r="1.72"/>
<circle cx="424.18" cy="231.50" r="1.72"/>
<circle cx="425.84" cy="231.50" r="1.72"/>
<circle cx="427.77" cy="231.50" r="1.72"/>
<circle cx="429.03" cy="231.50" r="1.72"/>
<circle cx="431.28" cy="231.50" r="1.72"/>
<circle cx="433.10" cy="231.50" r="1.72"/>
<circle cx="435.27" cy="231.50" r="1.72"/>
<circle cx="436.65" cy="231.50" r="1.72"/>
<circle cx="438.71" cy="231.50" r="1.72"/>
<circle cx="440.07" cy="231.50" r="1.72"/>
<circle cx="442.21" cy="231.50" r="1.72"/>
<circle cx="444.00" cy="231.50" r="1.72"/>
<circle cx="445.69" cy="231.50" r="1.72"/>
<circle cx="448.13" cy="231.50" r="1.72"/>
<circle cx="449.58" cy="231.50" r="1.72"/>
<circle cx="451.97" cy="231.50" r="1.72"/>
<circle cx="453.38" cy="231.50" r="1.72"/>
<circle cx="457.10" cy="231.50" r="1.72"/>
<circle cx="460.70" cy="231.50" r="1.72"/>
<circle cx="464.30" cy="231.50" r="1.72"/>
<circle cx="468.32" cy="231.50" r="1.72"/>
<circle cx="470.07" cy="231.50" r="1.72"/>
<circle cx="471.76" cy="231.50" r="1.72"/>
<circle cx="473.46" cy="231.50" r="1.72"/>
<circle cx="475.17" cy="231.50" r="1.72"/>
<circle cx="476.68" cy="231.50" r="1.72"/>
<circle cx="480.20" cy="231.50" r="1.72"/>
<circle cx="483.90" cy="231.50" r="1.72"/>
<circle cx="487.60" cy="231.50" r="1.72"/>
<circle cx="490.70" cy="231.50" r="1.72"/>
<circle cx="494.80" cy="231.50" r="1.72"/>
<circle cx="498.90" cy="231.50" r="1.72"/>
<circle cx="505.50" cy="231.50" r="1.72"/>
<circle cx="510.00" cy="231.50" r="1.72"/>
<circle cx="512.50" cy="231.50" r="1.72"/>
<circle cx="515.00" cy="231.50" r="1.72"/>
<circle cx="527.00" cy="231.50" r="1.72"/>
<circle cx="530.10" cy="231.50" r="1.72"/>
<circle cx="536.20" cy="231.50" r="1.72"/>
<circle cx="541.42" cy="231.50" r="1.72"/>
<circle cx="542.78" cy="231.50" r="1.72"/>
<circle cx="544.72" cy="231.50" r="1.72"/>
<circle cx="546.22" cy="231.50" r="1.72"/>
<circle cx="548.04" cy="231.50" r="1.72"/>
<circle cx="549.44" cy="231.50" r="1.72"/>
<circle cx="551.48" cy="231.50" r="1.72"/>
<circle cx="427.90" cy="214.30" r="1.72"/>
<circle cx="431.00" cy="214.30" r="1.72"/>
<circle cx="434.52" cy="214.30" r="1.72"/>
<circle cx="436.75" cy="214.30" r="1.72"/>
<circle cx="437.88" cy="214.30" r="1.72"/>
<circle cx="440.10" cy="214.30" r="1.72"/>
<circle cx="441.58" cy="214.30" r="1.72"/>
<circle cx="443.90" cy="214.30" r="1.72"/>
<circle cx="445.52" cy="214.30" r="1.72"/>
<circle cx="446.85" cy="214.30" r="1.72"/>
<circle cx="449.30" cy="214.30" r="1.72"/>
<circle cx="451.20" cy="214.30" r="1.72"/>
<circle cx="452.97" cy="214.30" r="1.72"/>
<circle cx="454.48" cy="214.30" r="1.72"/>
<circle cx="455.91" cy="214.30" r="1.72"/>
<circle cx="457.76" cy="214.30" r="1.72"/>
<circle cx="460.23" cy="214.30" r="1.72"/>
<circle cx="461.70" cy="214.30" r="1.72"/>
<circle cx="463.18" cy="214.30" r="1.72"/>
<circle cx="465.62" cy="214.30" r="1.72"/>
<circle cx="467.21" cy="214.30" r="1.72"/>
<circle cx="468.95" cy="214.30" r="1.72"/>
<circle cx="470.59" cy="214.30" r="1.72"/>
<circle cx="472.43" cy="214.30" r="1.72"/>
<circle cx="474.08" cy="214.30" r="1.72"/>
<circle cx="475.71" cy="214.30" r="1.72"/>
<circle cx="478.28" cy="214.30" r="1.72"/>
<circle cx="479.72" cy="214.30" r="1.72"/>
<circle cx="481.60" cy="214.30" r="1.72"/>
<circle cx="483.20" cy="214.30" r="1.72"/>
<circle cx="485.40" cy="214.30" r="1.72"/>
<circle cx="486.55" cy="214.30" r="1.72"/>
<circle cx="488.68" cy="214.30" r="1.72"/>
<circle cx="490.18" cy="214.30" r="1.72"/>
<circle cx="492.07" cy="214.30" r="1.72"/>
<circle cx="494.64" cy="214.30" r="1.72"/>
<circle cx="496.17" cy="214.30" r="1.72"/>
<circle cx="497.77" cy="214.30" r="1.72"/>
<circle cx="499.67" cy="214.30" r="1.72"/>
<circle cx="501.79" cy="214.30" r="1.72"/>
<circle cx="503.12" cy="214.30" r="1.72"/>
<circle cx="505.15" cy="214.30" r="1.72"/>
<circle cx="507.05" cy="214.30" r="1.72"/>
<circle cx="508.56" cy="214.30" r="1.72"/>
<circle cx="510.52" cy="214.30" r="1.72"/>
<circle cx="512.55" cy="214.30" r="1.72"/>
<circle cx="514.49" cy="214.30" r="1.72"/>
<circle cx="515.61" cy="214.30" r="1.72"/>
<circle cx="518.12" cy="214.30" r="1.72"/>
<circle cx="519.10" cy="214.30" r="1.72"/>
<circle cx="521.58" cy="214.30" r="1.72"/>
<circle cx="523.44" cy="214.30" r="1.72"/>
<circle cx="524.64" cy="214.30" r="1.72"/>
<circle cx="526.78" cy="214.30" r="1.72"/>
<circle cx="541.00" cy="214.30" r="1.72"/>
<circle cx="556.30" cy="214.30" r="1.72"/>
<circle cx="558.75" cy="214.30" r="1.72"/>
<circle cx="561.20" cy="214.30" r="1.72"/>
<circle cx="569.80" cy="214.30" r="1.72"/>
<circle cx="573.00" cy="214.30" r="1.72"/>
<circle cx="577.50" cy="214.30" r="1.72"/>
<circle cx="581.60" cy="214.30" r="1.72"/>
<circle cx="587.40" cy="214.30" r="1.72"/>
<circle cx="590.45" cy="214.30" r="1.72"/>
<circle cx="593.50" cy="214.30" r="1.72"/>
<circle cx="441.40" cy="197.10" r="1.72"/>
<circle cx="446.60" cy="197.10" r="1.72"/>
<circle cx="451.12" cy="197.10" r="1.72"/>
<circle cx="452.85" cy="197.10" r="1.72"/>
<circle cx="455.01" cy="197.10" r="1.72"/>
<circle cx="456.09" cy="197.10" r="1.72"/>
<circle cx="458.44" cy="197.10" r="1.72"/>
<circle cx="460.39" cy="197.10" r="1.72"/>
<circle cx="461.94" cy="197.10" r="1.72"/>
<circle cx="463.93" cy="197.10" r="1.72"/>
<circle cx="465.28" cy="197.10" r="1.72"/>
<circle cx="467.06" cy="197.10" r="1.72"/>
<circle cx="469.01" cy="197.10" r="1.72"/>
<circle cx="470.64" cy="197.10" r="1.72"/>
<circle cx="472.60" cy="197.10" r="1.72"/>
<circle cx="474.94" cy="197.10" r="1.72"/>
<circle cx="476.40" cy="197.10" r="1.72"/>
<circle cx="477.99" cy="197.10" r="1.72"/>
<circle cx="479.73" cy="197.10" r="1.72"/>
<circle cx="482.15" cy="197.10" r="1.72"/>
<circle cx="483.49" cy="197.10" r="1.72"/>
<circle cx="485.77" cy="197.10" r="1.72"/>
<circle cx="487.16" cy="197.10" r="1.72"/>
<circle cx="488.96" cy="197.10" r="1.72"/>
<circle cx="491.10" cy="197.10" r="1.72"/>
<circle cx="492.77" cy="197.10" r="1.72"/>
<circle cx="494.42" cy="197.10" r="1.72"/>
<circle cx="496.08" cy="197.10" r="1.72"/>
<circle cx="498.29" cy="197.10" r="1.72"/>
<circle cx="499.67" cy="197.10" r="1.72"/>
<circle cx="501.93" cy="197.10" r="1.72"/>
<circle cx="502.97" cy="197.10" r="1.72"/>
<circle cx="505.09" cy="197.10" r="1.72"/>
<circle cx="506.97" cy="197.10" r="1.72"/>
<circle cx="509.16" cy="197.10" r="1.72"/>
<circle cx="510.33" cy="197.10" r="1.72"/>
<circle cx="512.64" cy="197.10" r="1.72"/>
<circle cx="514.32" cy="197.10" r="1.72"/>
<circle cx="516.16" cy="197.10" r="1.72"/>
<circle cx="517.88" cy="197.10" r="1.72"/>
<circle cx="519.99" cy="197.10" r="1.72"/>
<circle cx="521.22" cy="197.10" r="1.72"/>
<circle cx="523.08" cy="197.10" r="1.72"/>
<circle cx="524.70" cy="197.10" r="1.72"/>
<circle cx="526.37" cy="197.10" r="1.72"/>
<circle cx="528.31" cy="197.10" r="1.72"/>
<circle cx="530.75" cy="197.10" r="1.72"/>
<circle cx="532.48" cy="197.10" r="1.72"/>
<circle cx="533.63" cy="197.10" r="1.72"/>
<circle cx="535.87" cy="197.10" r="1.72"/>
<circle cx="537.56" cy="197.10" r="1.72"/>
<circle cx="539.46" cy="197.10" r="1.72"/>
<circle cx="541.32" cy="197.10" r="1.72"/>
<circle cx="542.98" cy="197.10" r="1.72"/>
<circle cx="553.90" cy="197.10" r="1.72"/>
<circle cx="558.92" cy="197.10" r="1.72"/>
<circle cx="560.70" cy="197.10" r="1.72"/>
<circle cx="563.24" cy="197.10" r="1.72"/>
<circle cx="564.75" cy="197.10" r="1.72"/>
<circle cx="566.84" cy="197.10" r="1.72"/>
<circle cx="568.68" cy="197.10" r="1.72"/>
<circle cx="574.50" cy="197.10" r="1.72"/>
<circle cx="577.60" cy="197.10" r="1.72"/>
<circle cx="582.60" cy="197.10" r="1.72"/>
<circle cx="584.20" cy="197.10" r="1.72"/>
<circle cx="446.10" cy="179.90" r="1.72"/>
<circle cx="458.62" cy="179.90" r="1.72"/>
<circle cx="460.55" cy="179.90" r="1.72"/>
<circle cx="461.94" cy="179.90" r="1.72"/>
<circle cx="463.64" cy="179.90" r="1.72"/>
<circle cx="465.76" cy="179.90" r="1.72"/>
<circle cx="467.88" cy="179.90" r="1.72"/>
<circle cx="469.73" cy="179.90" r="1.72"/>
<circle cx="471.46" cy="179.90" r="1.72"/>
<circle cx="472.71" cy="179.90" r="1.72"/>
<circle cx="475.23" cy="179.90" r="1.72"/>
<circle cx="476.93" cy="179.90" r="1.72"/>
<circle cx="478.81" cy="179.90" r="1.72"/>
<circle cx="480.29" cy="179.90" r="1.72"/>
<circle cx="482.45" cy="179.90" r="1.72"/>
<circle cx="483.47" cy="179.90" r="1.72"/>
<circle cx="485.26" cy="179.90" r="1.72"/>
<circle cx="487.06" cy="179.90" r="1.72"/>
<circle cx="489.07" cy="179.90" r="1.72"/>
<circle cx="490.87" cy="179.90" r="1.72"/>
<circle cx="492.62" cy="179.90" r="1.72"/>
<circle cx="494.77" cy="179.90" r="1.72"/>
<circle cx="496.09" cy="179.90" r="1.72"/>
<circle cx="498.40" cy="179.90" r="1.72"/>
<circle cx="499.82" cy="179.90" r="1.72"/>
<circle cx="502.08" cy="179.90" r="1.72"/>
<circle cx="503.30" cy="179.90" r="1.72"/>
<circle cx="505.36" cy="179.90" r="1.72"/>
<circle cx="507.73" cy="179.90" r="1.72"/>
<circle cx="509.17" cy="179.90" r="1.72"/>
<circle cx="511.22" cy="179.90" r="1.72"/>
<circle cx="512.89" cy="179.90" r="1.72"/>
<circle cx="514.65" cy="179.90" r="1.72"/>
<circle cx="516.08" cy="179.90" r="1.72"/>
<circle cx="518.23" cy="179.90" r="1.72"/>
<circle cx="519.55" cy="179.90" r="1.72"/>
<circle cx="522.04" cy="179.90" r="1.72"/>
<circle cx="523.99" cy="179.90" r="1.72"/>
<circle cx="525.70" cy="179.90" r="1.72"/>
<circle cx="526.78" cy="179.90" r="1.72"/>
<circle cx="528.84" cy="179.90" r="1.72"/>
<circle cx="530.63" cy="179.90" r="1.72"/>
<circle cx="532.25" cy="179.90" r="1.72"/>
<circle cx="534.51" cy="179.90" r="1.72"/>
<circle cx="536.47" cy="179.90" r="1.72"/>
<circle cx="537.84" cy="179.90" r="1.72"/>
<circle cx="540.14" cy="179.90" r="1.72"/>
<circle cx="541.88" cy="179.90" r="1.72"/>
<circle cx="543.09" cy="179.90" r="1.72"/>
<circle cx="545.46" cy="179.90" r="1.72"/>
<circle cx="547.37" cy="179.90" r="1.72"/>
<circle cx="548.56" cy="179.90" r="1.72"/>
<circle cx="550.70" cy="179.90" r="1.72"/>
<circle cx="552.57" cy="179.90" r="1.72"/>
<circle cx="554.34" cy="179.90" r="1.72"/>
<circle cx="555.69" cy="179.90" r="1.72"/>
<circle cx="558.00" cy="179.90" r="1.72"/>
<circle cx="559.78" cy="179.90" r="1.72"/>
<circle cx="561.75" cy="179.90" r="1.72"/>
<circle cx="563.54" cy="179.90" r="1.72"/>
<circle cx="564.92" cy="179.90" r="1.72"/>
<circle cx="567.08" cy="179.90" r="1.72"/>
<circle cx="568.68" cy="179.90" r="1.72"/>
<circle cx="573.60" cy="179.90" r="1.72"/>
<circle cx="576.90" cy="179.90" r="1.72"/>
<circle cx="582.00" cy="179.90" r="1.72"/>
<circle cx="585.85" cy="179.90" r="1.72"/>
<circle cx="589.70" cy="179.90" r="1.72"/>
<circle cx="463.32" cy="162.70" r="1.72"/>
<circle cx="465.36" cy="162.70" r="1.72"/>
<circle cx="467.10" cy="162.70" r="1.72"/>
<circle cx="468.15" cy="162.70" r="1.72"/>
<circle cx="469.74" cy="162.70" r="1.72"/>
<circle cx="471.88" cy="162.70" r="1.72"/>
<circle cx="478.02" cy="162.70" r="1.72"/>
<circle cx="479.88" cy="162.70" r="1.72"/>
<circle cx="481.22" cy="162.70" r="1.72"/>
<circle cx="483.26" cy="162.70" r="1.72"/>
<circle cx="485.32" cy="162.70" r="1.72"/>
<circle cx="486.54" cy="162.70" r="1.72"/>
<circle cx="488.15" cy="162.70" r="1.72"/>
<circle cx="490.06" cy="162.70" r="1.72"/>
<circle cx="491.97" cy="162.70" r="1.72"/>
<circle cx="493.19" cy="162.70" r="1.72"/>
<circle cx="495.28" cy="162.70" r="1.72"/>
<circle cx="499.52" cy="162.70" r="1.72"/>
<circle cx="501.22" cy="162.70" r="1.72"/>
<circle cx="502.81" cy="162.70" r="1.72"/>
<circle cx="505.10" cy="162.70" r="1.72"/>
<circle cx="507.06" cy="162.70" r="1.72"/>
<circle cx="508.46" cy="162.70" r="1.72"/>
<circle cx="510.27" cy="162.70" r="1.72"/>
<circle cx="512.23" cy="162.70" r="1.72"/>
<circle cx="513.75" cy="162.70" r="1.72"/>
<circle cx="515.58" cy="162.70" r="1.72"/>
<circle cx="517.47" cy="162.70" r="1.72"/>
<circle cx="519.39" cy="162.70" r="1.72"/>
<circle cx="520.87" cy="162.70" r="1.72"/>
<circle cx="523.28" cy="162.70" r="1.72"/>
<circle cx="524.93" cy="162.70" r="1.72"/>
<circle cx="526.49" cy="162.70" r="1.72"/>
<circle cx="528.10" cy="162.70" r="1.72"/>
<circle cx="530.53" cy="162.70" r="1.72"/>
<circle cx="531.77" cy="162.70" r="1.72"/>
<circle cx="533.58" cy="162.70" r="1.72"/>
<circle cx="535.39" cy="162.70" r="1.72"/>
<circle cx="537.16" cy="162.70" r="1.72"/>
<circle cx="539.71" cy="162.70" r="1.72"/>
<circle cx="540.95" cy="162.70" r="1.72"/>
<circle cx="542.79" cy="162.70" r="1.72"/>
<circle cx="545.07" cy="162.70" r="1.72"/>
<circle cx="546.69" cy="162.70" r="1.72"/>
<circle cx="548.11" cy="162.70" r="1.72"/>
<circle cx="550.15" cy="162.70" r="1.72"/>
<circle cx="552.36" cy="162.70" r="1.72"/>
<circle cx="553.71" cy="162.70" r="1.72"/>
<circle cx="555.83" cy="162.70" r="1.72"/>
<circle cx="557.08" cy="162.70" r="1.72"/>
<circle cx="559.46" cy="162.70" r="1.72"/>
<circle cx="561.32" cy="162.70" r="1.72"/>
<circle cx="563.17" cy="162.70" r="1.72"/>
<circle cx="564.84" cy="162.70" r="1.72"/>
<circle cx="566.38" cy="162.70" r="1.72"/>
<circle cx="567.91" cy="162.70" r="1.72"/>
<circle cx="570.13" cy="162.70" r="1.72"/>
<circle cx="572.16" cy="162.70" r="1.72"/>
<circle cx="573.46" cy="162.70" r="1.72"/>
<circle cx="575.34" cy="162.70" r="1.72"/>
<circle cx="577.39" cy="162.70" r="1.72"/>
<circle cx="579.39" cy="162.70" r="1.72"/>
<circle cx="581.34" cy="162.70" r="1.72"/>
<circle cx="582.45" cy="162.70" r="1.72"/>
<circle cx="584.31" cy="162.70" r="1.72"/>
<circle cx="586.68" cy="162.70" r="1.72"/>
<circle cx="588.35" cy="162.70" r="1.72"/>
<circle cx="590.23" cy="162.70" r="1.72"/>
<circle cx="592.29" cy="162.70" r="1.72"/>
<circle cx="594.04" cy="162.70" r="1.72"/>
<circle cx="595.77" cy="162.70" r="1.72"/>
<circle cx="597.52" cy="162.70" r="1.72"/>
<circle cx="599.08" cy="162.70" r="1.72"/>
<circle cx="605.05" cy="162.70" r="1.72"/>
<circle cx="606.65" cy="162.70" r="1.72"/>
<circle cx="610.70" cy="162.70" r="1.72"/>
<circle cx="612.30" cy="162.70" r="1.72"/>
<circle cx="618.45" cy="162.70" r="1.72"/>
<circle cx="620.05" cy="162.70" r="1.72"/>
<circle cx="626.80" cy="162.70" r="1.72"/>
<circle cx="470.60" cy="145.50" r="1.72"/>
<circle cx="482.62" cy="145.50" r="1.72"/>
<circle cx="484.32" cy="145.50" r="1.72"/>
<circle cx="486.33" cy="145.50" r="1.72"/>
<circle cx="487.71" cy="145.50" r="1.72"/>
<circle cx="490.02" cy="145.50" r="1.72"/>
<circle cx="491.80" cy="145.50" r="1.72"/>
<circle cx="493.56" cy="145.50" r="1.72"/>
<circle cx="495.10" cy="145.50" r="1.72"/>
<circle cx="496.83" cy="145.50" r="1.72"/>
<circle cx="498.66" cy="145.50" r="1.72"/>
<circle cx="500.10" cy="145.50" r="1.72"/>
<circle cx="502.62" cy="145.50" r="1.72"/>
<circle cx="504.14" cy="145.50" r="1.72"/>
<circle cx="505.79" cy="145.50" r="1.72"/>
<circle cx="507.73" cy="145.50" r="1.72"/>
<circle cx="509.68" cy="145.50" r="1.72"/>
<circle cx="511.16" cy="145.50" r="1.72"/>
<circle cx="513.36" cy="145.50" r="1.72"/>
<circle cx="515.23" cy="145.50" r="1.72"/>
<circle cx="516.54" cy="145.50" r="1.72"/>
<circle cx="518.10" cy="145.50" r="1.72"/>
<circle cx="520.45" cy="145.50" r="1.72"/>
<circle cx="522.45" cy="145.50" r="1.72"/>
<circle cx="523.48" cy="145.50" r="1.72"/>
<circle cx="525.78" cy="145.50" r="1.72"/>
<circle cx="527.67" cy="145.50" r="1.72"/>
<circle cx="529.55" cy="145.50" r="1.72"/>
<circle cx="530.62" cy="145.50" r="1.72"/>
<circle cx="532.39" cy="145.50" r="1.72"/>
<circle cx="534.98" cy="145.50" r="1.72"/>
<circle cx="535.99" cy="145.50" r="1.72"/>
<circle cx="537.83" cy="145.50" r="1.72"/>
<circle cx="539.98" cy="145.50" r="1.72"/>
<circle cx="541.66" cy="145.50" r="1.72"/>
<circle cx="543.72" cy="145.50" r="1.72"/>
<circle cx="545.01" cy="145.50" r="1.72"/>
<circle cx="547.45" cy="145.50" r="1.72"/>
<circle cx="548.61" cy="145.50" r="1.72"/>
<circle cx="550.90" cy="145.50" r="1.72"/>
<circle cx="552.06" cy="145.50" r="1.72"/>
<circle cx="554.21" cy="145.50" r="1.72"/>
<circle cx="555.61" cy="145.50" r="1.72"/>
<circle cx="557.65" cy="145.50" r="1.72"/>
<circle cx="559.44" cy="145.50" r="1.72"/>
<circle cx="561.60" cy="145.50" r="1.72"/>
<circle cx="563.15" cy="145.50" r="1.72"/>
<circle cx="564.58" cy="145.50" r="1.72"/>
<circle cx="567.22" cy="145.50" r="1.72"/>
<circle cx="568.91" cy="145.50" r="1.72"/>
<circle cx="570.73" cy="145.50" r="1.72"/>
<circle cx="571.91" cy="145.50" r="1.72"/>
<circle cx="573.84" cy="145.50" r="1.72"/>
<circle cx="575.48" cy="145.50" r="1.72"/>
<circle cx="577.18" cy="145.50" r="1.72"/>
<circle cx="578.88" cy="145.50" r="1.72"/>
<circle cx="581.10" cy="145.50" r="1.72"/>
<circle cx="582.55" cy="145.50" r="1.72"/>
<circle cx="584.38" cy="145.50" r="1.72"/>
<circle cx="586.79" cy="145.50" r="1.72"/>
<circle cx="588.24" cy="145.50" r="1.72"/>
<circle cx="589.76" cy="145.50" r="1.72"/>
<circle cx="591.99" cy="145.50" r="1.72"/>
<circle cx="593.42" cy="145.50" r="1.72"/>
<circle cx="595.44" cy="145.50" r="1.72"/>
<circle cx="597.01" cy="145.50" r="1.72"/>
<circle cx="599.01" cy="145.50" r="1.72"/>
<circle cx="600.91" cy="145.50" r="1.72"/>
<circle cx="602.58" cy="145.50" r="1.72"/>
<circle cx="606.40" cy="145.50" r="1.72"/>
<circle cx="609.20" cy="145.50" r="1.72"/>
<circle cx="615.30" cy="145.50" r="1.72"/>
<circle cx="616.90" cy="145.50" r="1.72"/>
<circle cx="621.10" cy="145.50" r="1.72"/>
<circle cx="487.00" cy="128.30" r="1.72"/>
<circle cx="493.30" cy="128.30" r="1.72"/>
<circle cx="497.62" cy="128.30" r="1.72"/>
<circle cx="499.45" cy="128.30" r="1.72"/>
<circle cx="501.13" cy="128.30" r="1.72"/>
<circle cx="503.28" cy="128.30" r="1.72"/>
<circle cx="505.16" cy="128.30" r="1.72"/>
<circle cx="506.34" cy="128.30" r="1.72"/>
<circle cx="508.10" cy="128.30" r="1.72"/>
<circle cx="509.88" cy="128.30" r="1.72"/>
<circle cx="512.46" cy="128.30" r="1.72"/>
<circle cx="514.23" cy="128.30" r="1.72"/>
<circle cx="515.39" cy="128.30" r="1.72"/>
<circle cx="517.85" cy="128.30" r="1.72"/>
<circle cx="518.97" cy="128.30" r="1.72"/>
<circle cx="521.04" cy="128.30" r="1.72"/>
<circle cx="522.83" cy="128.30" r="1.72"/>
<circle cx="525.01" cy="128.30" r="1.72"/>
<circle cx="526.02" cy="128.30" r="1.72"/>
<circle cx="528.07" cy="128.30" r="1.72"/>
<circle cx="530.13" cy="128.30" r="1.72"/>
<circle cx="531.45" cy="128.30" r="1.72"/>
<circle cx="533.40" cy="128.30" r="1.72"/>
<circle cx="535.41" cy="128.30" r="1.72"/>
<circle cx="537.59" cy="128.30" r="1.72"/>
<circle cx="539.28" cy="128.30" r="1.72"/>
<circle cx="541.14" cy="128.30" r="1.72"/>
<circle cx="542.88" cy="128.30" r="1.72"/>
<circle cx="544.63" cy="128.30" r="1.72"/>
<circle cx="546.56" cy="128.30" r="1.72"/>
<circle cx="548.21" cy="128.30" r="1.72"/>
<circle cx="550.06" cy="128.30" r="1.72"/>
<circle cx="551.47" cy="128.30" r="1.72"/>
<circle cx="553.15" cy="128.30" r="1.72"/>
<circle cx="555.48" cy="128.30" r="1.72"/>
<circle cx="556.75" cy="128.30" r="1.72"/>
<circle cx="559.23" cy="128.30" r="1.72"/>
<circle cx="560.74" cy="128.30" r="1.72"/>
<circle cx="562.30" cy="128.30" r="1.72"/>
<circle cx="564.65" cy="128.30" r="1.72"/>
<circle cx="565.75" cy="128.30" r="1.72"/>
<circle cx="567.87" cy="128.30" r="1.72"/>
<circle cx="569.29" cy="128.30" r="1.72"/>
<circle cx="571.88" cy="128.30" r="1.72"/>
<circle cx="573.33" cy="128.30" r="1.72"/>
<circle cx="575.34" cy="128.30" r="1.72"/>
<circle cx="576.67" cy="128.30" r="1.72"/>
<circle cx="578.94" cy="128.30" r="1.72"/>
<circle cx="580.65" cy="128.30" r="1.72"/>
<circle cx="582.40" cy="128.30" r="1.72"/>
<circle cx="584.48" cy="128.30" r="1.72"/>
<circle cx="585.81" cy="128.30" r="1.72"/>
<circle cx="587.60" cy="128.30" r="1.72"/>
<circle cx="589.65" cy="128.30" r="1.72"/>
<circle cx="591.58" cy="128.30" r="1.72"/>
<circle cx="592.93" cy="128.30" r="1.72"/>
<circle cx="595.03" cy="128.30" r="1.72"/>
<circle cx="596.42" cy="128.30" r="1.72"/>
<circle cx="598.53" cy="128.30" r="1.72"/>
<circle cx="600.28" cy="128.30" r="1.72"/>
<circle cx="604.80" cy="128.30" r="1.72"/>
<circle cx="608.80" cy="128.30" r="1.72"/>
<circle cx="614.00" cy="128.30" r="1.72"/>
<circle cx="615.60" cy="128.30" r="1.72"/>
<circle cx="624.70" cy="128.30" r="1.72"/>
<circle cx="626.30" cy="128.30" r="1.72"/>
<circle cx="506.70" cy="111.10" r="1.72"/>
<circle cx="510.00" cy="111.10" r="1.72"/>
<circle cx="513.30" cy="111.10" r="1.72"/>
<circle cx="519.12" cy="111.10" r="1.72"/>
<circle cx="521.16" cy="111.10" r="1.72"/>
<circle cx="522.33" cy="111.10" r="1.72"/>
<circle cx="524.73" cy="111.10" r="1.72"/>
<circle cx="525.89" cy="111.10" r="1.72"/>
<circle cx="528.54" cy="111.10" r="1.72"/>
<circle cx="529.90" cy="111.10" r="1.72"/>
<circle cx="531.65" cy="111.10" r="1.72"/>
<circle cx="533.73" cy="111.10" r="1.72"/>
<circle cx="535.36" cy="111.10" r="1.72"/>
<circle cx="537.35" cy="111.10" r="1.72"/>
<circle cx="538.57" cy="111.10" r="1.72"/>
<circle cx="540.80" cy="111.10" r="1.72"/>
<circle cx="542.60" cy="111.10" r="1.72"/>
<circle cx="544.73" cy="111.10" r="1.72"/>
<circle cx="545.73" cy="111.10" r="1.72"/>
<circle cx="547.91" cy="111.10" r="1.72"/>
<circle cx="549.87" cy="111.10" r="1.72"/>
<circle cx="551.60" cy="111.10" r="1.72"/>
<circle cx="552.97" cy="111.10" r="1.72"/>
<circle cx="555.24" cy="111.10" r="1.72"/>
<circle cx="556.71" cy="111.10" r="1.72"/>
<circle cx="558.48" cy="111.10" r="1.72"/>
<circle cx="560.90" cy="111.10" r="1.72"/>
<circle cx="562.09" cy="111.10" r="1.72"/>
<circle cx="564.12" cy="111.10" r="1.72"/>
<circle cx="566.19" cy="111.10" r="1.72"/>
<circle cx="567.95" cy="111.10" r="1.72"/>
<circle cx="569.62" cy="111.10" r="1.72"/>
<circle cx="571.65" cy="111.10" r="1.72"/>
<circle cx="573.14" cy="111.10" r="1.72"/>
<circle cx="575.08" cy="111.10" r="1.72"/>
<circle cx="577.06" cy="111.10" r="1.72"/>
<circle cx="578.74" cy="111.10" r="1.72"/>
<circle cx="580.38" cy="111.10" r="1.72"/>
<circle cx="585.30" cy="111.10" r="1.72"/>
<circle cx="589.35" cy="111.10" r="1.72"/>
<circle cx="593.40" cy="111.10" r="1.72"/>
<circle cx="598.50" cy="111.10" r="1.72"/>
<circle cx="602.50" cy="111.10" r="1.72"/>
<circle cx="606.50" cy="111.10" r="1.72"/>
<circle cx="611.30" cy="111.10" r="1.72"/>
<circle cx="617.62" cy="111.10" r="1.72"/>
<circle cx="619.57" cy="111.10" r="1.72"/>
<circle cx="621.19" cy="111.10" r="1.72"/>
<circle cx="623.15" cy="111.10" r="1.72"/>
<circle cx="624.83" cy="111.10" r="1.72"/>
<circle cx="626.97" cy="111.10" r="1.72"/>
<circle cx="628.58" cy="111.10" r="1.72"/>
<circle cx="635.30" cy="111.10" r="1.72"/>
<circle cx="514.90" cy="93.90" r="1.72"/>
<circle cx="517.35" cy="93.90" r="1.72"/>
<circle cx="519.80" cy="93.90" r="1.72"/>
<circle cx="528.10" cy="93.90" r="1.72"/>
<circle cx="532.10" cy="93.90" r="1.72"/>
<circle cx="537.90" cy="93.90" r="1.72"/>
<circle cx="553.02" cy="93.90" r="1.72"/>
<circle cx="554.78" cy="93.90" r="1.72"/>
<circle cx="556.72" cy="93.90" r="1.72"/>
<circle cx="558.84" cy="93.90" r="1.72"/>
<circle cx="560.48" cy="93.90" r="1.72"/>
<circle cx="565.50" cy="93.90" r="1.72"/>
<circle cx="570.20" cy="93.90" r="1.72"/>
<circle cx="576.32" cy="93.90" r="1.72"/>
<circle cx="578.04" cy="93.90" r="1.72"/>
<circle cx="579.61" cy="93.90" r="1.72"/>
<circle cx="581.77" cy="93.90" r="1.72"/>
<circle cx="583.08" cy="93.90" r="1.72"/>
<circle cx="585.22" cy="93.90" r="1.72"/>
<circle cx="586.88" cy="93.90" r="1.72"/>
<circle cx="588.30" cy="93.90" r="1.72"/>
<circle cx="590.25" cy="93.90" r="1.72"/>
<circle cx="591.78" cy="93.90" r="1.72"/>
<circle cx="602.00" cy="93.90" r="1.72"/>
<circle cx="609.60" cy="93.90" r="1.72"/>
<circle cx="611.20" cy="93.90" r="1.72"/>
<circle cx="615.20" cy="93.90" r="1.72"/>
<circle cx="621.12" cy="93.90" r="1.72"/>
<circle cx="622.57" cy="93.90" r="1.72"/>
<circle cx="624.75" cy="93.90" r="1.72"/>
<circle cx="627.04" cy="93.90" r="1.72"/>
<circle cx="628.58" cy="93.90" r="1.72"/>
<circle cx="634.50" cy="93.90" r="1.72"/>
<circle cx="640.60" cy="93.90" r="1.72"/>
<circle cx="531.10" cy="76.70" r="1.72"/>
<circle cx="541.32" cy="76.70" r="1.72"/>
<circle cx="543.34" cy="76.70" r="1.72"/>
<circle cx="545.28" cy="76.70" r="1.72"/>
<circle cx="547.32" cy="76.70" r="1.72"/>
<circle cx="549.29" cy="76.70" r="1.72"/>
<circle cx="551.08" cy="76.70" r="1.72"/>
<circle cx="555.40" cy="76.70" r="1.72"/>
<circle cx="559.30" cy="76.70" r="1.72"/>
<circle cx="563.20" cy="76.70" r="1.72"/>
<circle cx="567.10" cy="76.70" r="1.72"/>
<circle cx="572.02" cy="76.70" r="1.72"/>
<circle cx="573.77" cy="76.70" r="1.72"/>
<circle cx="575.29" cy="76.70" r="1.72"/>
<circle cx="576.75" cy="76.70" r="1.72"/>
<circle cx="578.52" cy="76.70" r="1.72"/>
<circle cx="580.38" cy="76.70" r="1.72"/>
<circle cx="583.70" cy="76.70" r="1.72"/>
<circle cx="592.00" cy="76.70" r="1.72"/>
<circle cx="595.75" cy="76.70" r="1.72"/>
<circle cx="599.50" cy="76.70" r="1.72"/>
<circle cx="602.72" cy="76.70" r="1.72"/>
<circle cx="604.34" cy="76.70" r="1.72"/>
<circle cx="606.27" cy="76.70" r="1.72"/>
<circle cx="608.59" cy="76.70" r="1.72"/>
<circle cx="609.82" cy="76.70" r="1.72"/>
<circle cx="611.72" cy="76.70" r="1.72"/>
<circle cx="613.46" cy="76.70" r="1.72"/>
<circle cx="615.38" cy="76.70" r="1.72"/>
<circle cx="628.62" cy="76.70" r="1.72"/>
<circle cx="630.59" cy="76.70" r="1.72"/>
<circle cx="632.81" cy="76.70" r="1.72"/>
<circle cx="634.65" cy="76.70" r="1.72"/>
<circle cx="636.08" cy="76.70" r="1.72"/>
<circle cx="637.88" cy="76.70" r="1.72"/>
<circle cx="639.98" cy="76.70" r="1.72"/>
<circle cx="551.90" cy="59.50" r="1.72"/>
<circle cx="559.40" cy="59.50" r="1.72"/>
<circle cx="567.00" cy="59.50" r="1.72"/>
<circle cx="602.85" cy="59.50" r="1.72"/>
<circle cx="604.45" cy="59.50" r="1.72"/>
<circle cx="612.60" cy="59.50" r="1.72"/>
<circle cx="623.70" cy="59.50" r="1.72"/>
<circle cx="627.60" cy="59.50" r="1.72"/>
<circle cx="632.40" cy="59.50" r="1.72"/>
<circle cx="637.50" cy="59.50" r="1.72"/>
<circle cx="635.12" cy="42.30" r="1.72"/>
<circle cx="637.22" cy="42.30" r="1.72"/>
<circle cx="638.62" cy="42.30" r="1.72"/>
<circle cx="640.54" cy="42.30" r="1.72"/>
<circle cx="641.74" cy="42.30" r="1.72"/>
<circle cx="644.21" cy="42.30" r="1.72"/>
<circle cx="645.46" cy="42.30" r="1.72"/>
<circle cx="647.37" cy="42.30" r="1.72"/>
<circle cx="648.86" cy="42.30" r="1.72"/>
<circle cx="650.88" cy="42.30" r="1.72"/>
<circle cx="657.10" cy="42.30" r="1.72"/>
<circle cx="661.60" cy="42.30" r="1.72"/>
<circle cx="664.70" cy="42.30" r="1.72"/>
<circle cx="667.80" cy="42.30" r="1.72"/>
<circle cx="666.10" cy="25.10" r="1.72"/>
</g>
<g clip-path="url(#cB)">
<line x1="386.5" y1="265.9" x2="667.2" y2="62.7" stroke="#f0a532" stroke-width="1.35"/>
</g>
<line x1="386.5" y1="12.3" x2="386.5" y2="266.25" stroke="#000" stroke-width="0.7"/>
<line x1="386.15" y1="265.9" x2="677.8" y2="265.9" stroke="#000" stroke-width="0.7"/>
<line x1="386.5" y1="265.9" x2="386.5" y2="268.2" stroke="#000" stroke-width="0.6"/>
<text transform="translate(386.5,277.2) scale(1.0895,1)" x="-6.42 -1.28 1.29" y="0" font-size="9.24" fill="#000">0.0</text>
<line x1="435.05" y1="265.9" x2="435.05" y2="268.2" stroke="#000" stroke-width="0.6"/>
<text transform="translate(435.05,277.2) scale(1.0895,1)" x="-6.34 -1.2 1.37" y="0" font-size="9.24" fill="#000">0.5</text>
<line x1="483.6" y1="265.9" x2="483.6" y2="268.2" stroke="#000" stroke-width="0.6"/>
<text transform="translate(483.6,277.2) scale(1.0895,1)" x="-6.6 -1.46 1.11" y="0" font-size="9.24" fill="#000">1.0</text>
<line x1="532.15" y1="265.9" x2="532.15" y2="268.2" stroke="#000" stroke-width="0.6"/>
<text transform="translate(532.15,277.2) scale(1.0895,1)" x="-6.51 -1.37 1.19" y="0" font-size="9.24" fill="#000">1.5</text>
<line x1="580.7" y1="265.9" x2="580.7" y2="268.2" stroke="#000" stroke-width="0.6"/>
<text transform="translate(580.7,277.2) scale(1.0895,1)" x="-6.45 -1.31 1.26" y="0" font-size="9.24" fill="#000">2.0</text>
<line x1="629.25" y1="265.9" x2="629.25" y2="268.2" stroke="#000" stroke-width="0.6"/>
<text transform="translate(629.25,277.2) scale(1.0895,1)" x="-6.37 -1.23 1.34" y="0" font-size="9.24" fill="#000">2.5</text>
<line x1="677.8" y1="265.9" x2="677.8" y2="268.2" stroke="#000" stroke-width="0.6"/>
<text transform="translate(677.8,277.2) scale(1.0895,1)" x="-6.46 -1.32 1.24" y="0" font-size="9.24" fill="#000">3.0</text>
<line x1="384.2" y1="265.9" x2="386.5" y2="265.9" stroke="#000" stroke-width="0.6"/>
<text transform="translate(381.2,269.5) scale(1.0895,1)" x="-27.73 -22.59 -20.02 -14.88 -9.74 -4.6" y="0" font-size="9.24" fill="#000">0.0000</text>
<line x1="384.2" y1="223.02" x2="386.5" y2="223.02" stroke="#000" stroke-width="0.6"/>
<text transform="translate(381.2,226.62) scale(1.0895,1)" x="-27.56 -22.42 -19.85 -14.71 -9.57 -4.43" y="0" font-size="9.24" fill="#000">0.0005</text>
<line x1="384.2" y1="180.15" x2="386.5" y2="180.15" stroke="#000" stroke-width="0.6"/>
<text transform="translate(381.2,183.75) scale(1.0895,1)" x="-27.73 -22.59 -20.02 -14.88 -9.74 -4.6" y="0" font-size="9.24" fill="#000">0.0010</text>
<line x1="384.2" y1="137.27" x2="386.5" y2="137.27" stroke="#000" stroke-width="0.6"/>
<text transform="translate(381.2,140.87) scale(1.0895,1)" x="-27.56 -22.42 -19.85 -14.71 -9.57 -4.43" y="0" font-size="9.24" fill="#000">0.0015</text>
<line x1="384.2" y1="94.4" x2="386.5" y2="94.4" stroke="#000" stroke-width="0.6"/>
<text transform="translate(381.2,98) scale(1.0895,1)" x="-27.73 -22.59 -20.02 -14.88 -9.74 -4.6" y="0" font-size="9.24" fill="#000">0.0020</text>
<line x1="384.2" y1="51.52" x2="386.5" y2="51.52" stroke="#000" stroke-width="0.6"/>
<text transform="translate(381.2,55.12) scale(1.0895,1)" x="-27.56 -22.42 -19.85 -14.71 -9.57 -4.43" y="0" font-size="9.24" fill="#000">0.0025</text>
<text transform="translate(531.9,288.4) scale(1.1035,1)" x="-40.35 -34.42 -32.16 -24.14 -18.75 -16.66 -11.14 -8.09 -6 -0.83 4.47 7.42 10.47 12.73 20.67 25.88 28.56 31.84 36.72" y="0" font-size="9.63" fill="#000">Simulation time (y)</text>
<text transform="translate(345.5,139.55) rotate(-90) scale(1.0829,1)" x="-68.56 -61.61 -56.32 -51.03 -45.43 -42.32 -40.16 -35.41 -32.72 -27.25 -25.2 -20.27 -17.35 -12.08 -6.79 -2.13 3.16 6 8.96 12.03 17.41 25.56 28.38 31.45 36.63 42.22 45.23 47.96 51.01 55.42 60.13 65.1" y="0" font-size="9.63" fill="#000">Genetic distance from root (ssy)</text>
<text transform="translate(358.3,6.9) scale(1.0052,1)" x="-0.84" y="0" font-size="9.66" font-weight="bold" fill="#000">B</text>
<rect x="391.1" y="17.4" width="104.3" height="29" rx="1.8" ry="1.8" fill="#fff" fill-opacity="0.8" stroke="#cccccc" stroke-width="0.7"/>
<line x1="394.1" y1="24.4" x2="413.6" y2="24.4" stroke="#f0a532" stroke-width="1.35"/>
<text transform="translate(421.1,27.7) scale(1.0499,1)" x="-0.08 4.96 8.53 15.05 17.47 24.21 29.75 36.32 38.83 41.87 44.77" y="0" font-size="9.63" fill="#000">y = OSR · x</text>
<text transform="translate(421.2,41.2) scale(1.0630,1)" x="-0.83 5.83 11.3 17.81 21.32 27.78 30.55 36.01 38.78 44.27 49.76 55.25 60.74" y="0" font-size="9.63" fill="#000">OSR = 0.00082</text>
<rect x="36.6" y="354.20" width="641.30" height="83.75" fill="#f5f5f5"/>
<g clip-path="url(#cC)">
<g fill="#de9b28" fill-opacity="0.7">
<circle cx="36.60" cy="399.60" r="1.7"/>
<circle cx="36.60" cy="402.70" r="1.7"/>
<circle cx="36.60" cy="405.70" r="1.7"/>
<circle cx="36.60" cy="408.70" r="1.7"/>
<circle cx="36.60" cy="410.70" r="1.7"/>
<circle cx="36.60" cy="412.70" r="1.7"/>
<circle cx="36.60" cy="416.80" r="1.7"/>
<circle cx="36.60" cy="419.80" r="1.7"/>
<circle cx="36.60" cy="421.80" r="1.7"/>
<circle cx="36.60" cy="423.80" r="1.7"/>
<circle cx="36.60" cy="426.90" r="1.7"/>
<circle cx="36.60" cy="429.90" r="1.7"/>
<circle cx="36.60" cy="438.90" r="1.7"/>
<circle cx="36.60" cy="440.60" r="1.7"/>
<circle cx="36.60" cy="449.80" r="1.7"/>
<circle cx="36.60" cy="455.50" r="1.7"/>
<circle cx="36.60" cy="464.00" r="1.7"/>
<circle cx="36.60" cy="468.00" r="1.7"/>
<circle cx="36.60" cy="478.30" r="1.7"/>
<circle cx="36.60" cy="482.60" r="1.7"/>
<circle cx="36.60" cy="487.00" r="1.7"/>
<circle cx="36.60" cy="537.30" r="1.7"/>
<circle cx="81.66" cy="389.50" r="1.7"/>
<circle cx="81.66" cy="395.00" r="1.7"/>
<circle cx="81.66" cy="396.60" r="1.7"/>
<circle cx="81.66" cy="398.60" r="1.7"/>
<circle cx="81.66" cy="400.60" r="1.7"/>
<circle cx="81.66" cy="405.10" r="1.7"/>
<circle cx="81.66" cy="406.70" r="1.7"/>
<circle cx="81.66" cy="409.70" r="1.7"/>
<circle cx="81.66" cy="411.70" r="1.7"/>
<circle cx="81.66" cy="414.80" r="1.7"/>
<circle cx="81.66" cy="416.80" r="1.7"/>
<circle cx="81.66" cy="418.80" r="1.7"/>
<circle cx="81.66" cy="421.20" r="1.7"/>
<circle cx="81.66" cy="423.80" r="1.7"/>
<circle cx="81.66" cy="433.30" r="1.7"/>
<circle cx="81.66" cy="441.00" r="1.7"/>
<circle cx="81.66" cy="443.30" r="1.7"/>
<circle cx="81.66" cy="447.70" r="1.7"/>
<circle cx="81.66" cy="450.90" r="1.7"/>
<circle cx="81.66" cy="461.90" r="1.7"/>
<circle cx="81.66" cy="471.70" r="1.7"/>
<circle cx="81.66" cy="477.20" r="1.7"/>
<circle cx="81.66" cy="479.40" r="1.7"/>
<circle cx="81.66" cy="483.30" r="1.7"/>
<circle cx="81.66" cy="488.10" r="1.7"/>
<circle cx="81.66" cy="498.00" r="1.7"/>
<circle cx="81.66" cy="500.80" r="1.7"/>
<circle cx="81.66" cy="524.80" r="1.7"/>
<circle cx="81.66" cy="537.30" r="1.7"/>
<circle cx="81.66" cy="547.60" r="1.7"/>
<circle cx="126.72" cy="377.80" r="1.7"/>
<circle cx="126.72" cy="380.50" r="1.7"/>
<circle cx="126.72" cy="384.10" r="1.7"/>
<circle cx="126.72" cy="391.60" r="1.7"/>
<circle cx="126.72" cy="393.60" r="1.7"/>
<circle cx="126.72" cy="395.60" r="1.7"/>
<circle cx="126.72" cy="397.60" r="1.7"/>
<circle cx="126.72" cy="399.60" r="1.7"/>
<circle cx="126.72" cy="405.70" r="1.7"/>
<circle cx="126.72" cy="406.70" r="1.7"/>
<circle cx="126.72" cy="410.70" r="1.7"/>
<circle cx="126.72" cy="423.20" r="1.7"/>
<circle cx="126.72" cy="425.90" r="1.7"/>
<circle cx="126.72" cy="428.90" r="1.7"/>
<circle cx="126.72" cy="430.90" r="1.7"/>
<circle cx="126.72" cy="433.90" r="1.7"/>
<circle cx="126.72" cy="439.00" r="1.7"/>
<circle cx="126.72" cy="443.30" r="1.7"/>
<circle cx="126.72" cy="448.20" r="1.7"/>
<circle cx="126.72" cy="468.90" r="1.7"/>
<circle cx="126.72" cy="479.40" r="1.7"/>
<circle cx="126.72" cy="483.30" r="1.7"/>
<circle cx="126.72" cy="485.90" r="1.7"/>
<circle cx="126.72" cy="491.40" r="1.7"/>
<circle cx="126.72" cy="524.80" r="1.7"/>
<circle cx="171.78" cy="367.30" r="1.7"/>
<circle cx="171.78" cy="375.40" r="1.7"/>
<circle cx="171.78" cy="376.80" r="1.7"/>
<circle cx="171.78" cy="378.40" r="1.7"/>
<circle cx="171.78" cy="382.50" r="1.7"/>
<circle cx="171.78" cy="385.50" r="1.7"/>
<circle cx="171.78" cy="387.50" r="1.7"/>
<circle cx="171.78" cy="388.90" r="1.7"/>
<circle cx="171.78" cy="393.00" r="1.7"/>
<circle cx="171.78" cy="395.00" r="1.7"/>
<circle cx="171.78" cy="397.60" r="1.7"/>
<circle cx="171.78" cy="410.70" r="1.7"/>
<circle cx="171.78" cy="412.70" r="1.7"/>
<circle cx="171.78" cy="417.80" r="1.7"/>
<circle cx="171.78" cy="422.40" r="1.7"/>
<circle cx="171.78" cy="424.90" r="1.7"/>
<circle cx="171.78" cy="428.90" r="1.7"/>
<circle cx="171.78" cy="429.90" r="1.7"/>
<circle cx="171.78" cy="436.00" r="1.7"/>
<circle cx="171.78" cy="438.00" r="1.7"/>
<circle cx="171.78" cy="440.00" r="1.7"/>
<circle cx="171.78" cy="443.80" r="1.7"/>
<circle cx="171.78" cy="479.80" r="1.7"/>
<circle cx="171.78" cy="489.90" r="1.7"/>
<circle cx="171.78" cy="491.60" r="1.7"/>
<circle cx="171.78" cy="525.30" r="1.7"/>
<circle cx="171.78" cy="559.20" r="1.7"/>
<circle cx="216.84" cy="359.70" r="1.7"/>
<circle cx="216.84" cy="366.30" r="1.7"/>
<circle cx="216.84" cy="367.90" r="1.7"/>
<circle cx="216.84" cy="375.40" r="1.7"/>
<circle cx="216.84" cy="376.80" r="1.7"/>
<circle cx="216.84" cy="382.10" r="1.7"/>
<circle cx="216.84" cy="384.90" r="1.7"/>
<circle cx="216.84" cy="387.50" r="1.7"/>
<circle cx="216.84" cy="389.50" r="1.7"/>
<circle cx="216.84" cy="401.60" r="1.7"/>
<circle cx="216.84" cy="404.30" r="1.7"/>
<circle cx="216.84" cy="412.70" r="1.7"/>
<circle cx="216.84" cy="419.40" r="1.7"/>
<circle cx="216.84" cy="421.20" r="1.7"/>
<circle cx="216.84" cy="423.20" r="1.7"/>
<circle cx="216.84" cy="429.30" r="1.7"/>
<circle cx="216.84" cy="440.60" r="1.7"/>
<circle cx="216.84" cy="460.80" r="1.7"/>
<circle cx="261.90" cy="358.20" r="1.7"/>
<circle cx="261.90" cy="360.40" r="1.7"/>
<circle cx="261.90" cy="365.40" r="1.7"/>
<circle cx="261.90" cy="368.10" r="1.7"/>
<circle cx="261.90" cy="370.30" r="1.7"/>
<circle cx="261.90" cy="372.40" r="1.7"/>
<circle cx="261.90" cy="374.60" r="1.7"/>
<circle cx="261.90" cy="376.80" r="1.7"/>
<circle cx="261.90" cy="379.00" r="1.7"/>
<circle cx="261.90" cy="381.50" r="1.7"/>
<circle cx="261.90" cy="384.00" r="1.7"/>
<circle cx="261.90" cy="387.70" r="1.7"/>
<circle cx="261.90" cy="391.00" r="1.7"/>
<circle cx="261.90" cy="394.70" r="1.7"/>
<circle cx="261.90" cy="396.50" r="1.7"/>
<circle cx="261.90" cy="398.70" r="1.7"/>
<circle cx="261.90" cy="400.80" r="1.7"/>
<circle cx="261.90" cy="403.00" r="1.7"/>
<circle cx="261.90" cy="406.30" r="1.7"/>
<circle cx="261.90" cy="410.70" r="1.7"/>
<circle cx="261.90" cy="452.00" r="1.7"/>
<circle cx="306.96" cy="353.90" r="1.7"/>
<circle cx="306.96" cy="355.60" r="1.7"/>
<circle cx="306.96" cy="357.60" r="1.7"/>
<circle cx="306.96" cy="360.40" r="1.7"/>
<circle cx="306.96" cy="362.60" r="1.7"/>
<circle cx="306.96" cy="364.80" r="1.7"/>
<circle cx="306.96" cy="367.00" r="1.7"/>
<circle cx="306.96" cy="369.20" r="1.7"/>
<circle cx="306.96" cy="380.10" r="1.7"/>
<circle cx="306.96" cy="383.80" r="1.7"/>
<circle cx="306.96" cy="387.70" r="1.7"/>
<circle cx="306.96" cy="396.90" r="1.7"/>
<circle cx="306.96" cy="399.10" r="1.7"/>
<circle cx="306.96" cy="401.30" r="1.7"/>
<circle cx="306.96" cy="407.80" r="1.7"/>
<circle cx="352.02" cy="353.90" r="1.7"/>
<circle cx="352.02" cy="356.00" r="1.7"/>
<circle cx="352.02" cy="358.90" r="1.7"/>
<circle cx="352.02" cy="361.10" r="1.7"/>
<circle cx="352.02" cy="363.30" r="1.7"/>
<circle cx="352.02" cy="365.90" r="1.7"/>
<circle cx="352.02" cy="368.10" r="1.7"/>
<circle cx="352.02" cy="376.40" r="1.7"/>
<circle cx="352.02" cy="379.00" r="1.7"/>
<circle cx="352.02" cy="381.60" r="1.7"/>
<circle cx="352.02" cy="385.10" r="1.7"/>
<circle cx="352.02" cy="391.00" r="1.7"/>
<circle cx="352.02" cy="393.80" r="1.7"/>
<circle cx="352.02" cy="396.00" r="1.7"/>
<circle cx="397.08" cy="347.30" r="1.7"/>
<circle cx="397.08" cy="353.20" r="1.7"/>
<circle cx="397.08" cy="355.00" r="1.7"/>
<circle cx="397.08" cy="357.10" r="1.7"/>
<circle cx="397.08" cy="359.30" r="1.7"/>
<circle cx="397.08" cy="361.50" r="1.7"/>
<circle cx="397.08" cy="363.70" r="1.7"/>
<circle cx="397.08" cy="372.40" r="1.7"/>
<circle cx="397.08" cy="375.70" r="1.7"/>
<circle cx="397.08" cy="377.90" r="1.7"/>
<circle cx="397.08" cy="380.10" r="1.7"/>
<circle cx="397.08" cy="382.30" r="1.7"/>
<circle cx="397.08" cy="384.50" r="1.7"/>
<circle cx="397.08" cy="386.60" r="1.7"/>
<circle cx="397.08" cy="388.80" r="1.7"/>
<circle cx="397.08" cy="391.20" r="1.7"/>
<circle cx="442.14" cy="353.90" r="1.7"/>
<circle cx="442.14" cy="356.00" r="1.7"/>
<circle cx="442.14" cy="358.20" r="1.7"/>
<circle cx="442.14" cy="360.40" r="1.7"/>
<circle cx="442.14" cy="369.20" r="1.7"/>
<circle cx="442.14" cy="371.30" r="1.7"/>
<circle cx="442.14" cy="373.50" r="1.7"/>
<circle cx="442.14" cy="375.70" r="1.7"/>
<circle cx="442.14" cy="377.90" r="1.7"/>
<circle cx="442.14" cy="381.20" r="1.7"/>
<circle cx="442.14" cy="388.80" r="1.7"/>
<circle cx="442.14" cy="390.60" r="1.7"/>
<circle cx="487.20" cy="345.80" r="1.7"/>
<circle cx="487.20" cy="348.00" r="1.7"/>
<circle cx="487.20" cy="350.20" r="1.7"/>
<circle cx="487.20" cy="352.30" r="1.7"/>
<circle cx="487.20" cy="354.50" r="1.7"/>
<circle cx="487.20" cy="356.70" r="1.7"/>
<circle cx="487.20" cy="364.80" r="1.7"/>
<circle cx="487.20" cy="367.00" r="1.7"/>
<circle cx="487.20" cy="369.20" r="1.7"/>
<circle cx="487.20" cy="371.30" r="1.7"/>
<circle cx="487.20" cy="373.50" r="1.7"/>
<circle cx="487.20" cy="377.20" r="1.7"/>
<circle cx="487.20" cy="393.20" r="1.7"/>
<circle cx="532.26" cy="341.70" r="1.7"/>
<circle cx="532.26" cy="344.17" r="1.7"/>
<circle cx="532.26" cy="346.64" r="1.7"/>
<circle cx="532.26" cy="349.11" r="1.7"/>
<circle cx="532.26" cy="351.58" r="1.7"/>
<circle cx="532.26" cy="354.05" r="1.7"/>
<circle cx="532.26" cy="356.52" r="1.7"/>
<circle cx="532.26" cy="358.98" r="1.7"/>
<circle cx="532.26" cy="361.45" r="1.7"/>
<circle cx="532.26" cy="363.92" r="1.7"/>
<circle cx="532.26" cy="366.39" r="1.7"/>
<circle cx="532.26" cy="368.86" r="1.7"/>
<circle cx="532.26" cy="371.33" r="1.7"/>
<circle cx="532.26" cy="373.80" r="1.7"/>
<circle cx="532.26" cy="385.10" r="1.7"/>
<circle cx="577.32" cy="337.00" r="1.7"/>
<circle cx="577.32" cy="339.52" r="1.7"/>
<circle cx="577.32" cy="342.03" r="1.7"/>
<circle cx="577.32" cy="344.55" r="1.7"/>
<circle cx="577.32" cy="347.06" r="1.7"/>
<circle cx="577.32" cy="349.58" r="1.7"/>
<circle cx="577.32" cy="352.09" r="1.7"/>
<circle cx="577.32" cy="354.61" r="1.7"/>
<circle cx="577.32" cy="357.12" r="1.7"/>
<circle cx="577.32" cy="359.64" r="1.7"/>
<circle cx="577.32" cy="362.15" r="1.7"/>
<circle cx="577.32" cy="364.67" r="1.7"/>
<circle cx="577.32" cy="367.18" r="1.7"/>
<circle cx="577.32" cy="369.70" r="1.7"/>
<circle cx="577.32" cy="374.10" r="1.7"/>
<circle cx="622.38" cy="331.70" r="1.7"/>
<circle cx="622.38" cy="334.05" r="1.7"/>
<circle cx="622.38" cy="336.41" r="1.7"/>
<circle cx="622.38" cy="338.76" r="1.7"/>
<circle cx="622.38" cy="341.12" r="1.7"/>
<circle cx="622.38" cy="343.47" r="1.7"/>
<circle cx="622.38" cy="345.83" r="1.7"/>
<circle cx="622.38" cy="348.18" r="1.7"/>
<circle cx="622.38" cy="350.54" r="1.7"/>
<circle cx="622.38" cy="352.89" r="1.7"/>
<circle cx="622.38" cy="355.25" r="1.7"/>
<circle cx="622.38" cy="357.60" r="1.7"/>
<circle cx="667.44" cy="328.20" r="1.7"/>
<circle cx="667.44" cy="330.59" r="1.7"/>
<circle cx="667.44" cy="332.98" r="1.7"/>
<circle cx="667.44" cy="335.37" r="1.7"/>
<circle cx="667.44" cy="337.76" r="1.7"/>
<circle cx="667.44" cy="340.15" r="1.7"/>
<circle cx="667.44" cy="342.55" r="1.7"/>
<circle cx="667.44" cy="344.94" r="1.7"/>
<circle cx="667.44" cy="347.33" r="1.7"/>
<circle cx="667.44" cy="349.72" r="1.7"/>
<circle cx="667.44" cy="352.11" r="1.7"/>
<circle cx="667.44" cy="354.50" r="1.7"/>
</g>
<polyline points="36.60,443.80 81.66,423.40 126.72,410.30 171.78,400.60 216.84,392.20 261.90,383.40 306.96,377.20 352.02,372.00 397.08,367.00 442.14,363.30 487.20,360.00 532.26,354.30 577.32,350.40 622.38,346.60 667.44,343.00" fill="none" stroke="#000" stroke-width="1.3" stroke-linejoin="round" stroke-linecap="butt"/>
<path d="M35.50,452.10L37.70,454.30M35.50,454.30L37.70,452.10" stroke="#e040c0" stroke-width="1.2" fill="none"/>
<path d="M80.56,436.50L82.76,438.70M80.56,438.70L82.76,436.50" stroke="#e040c0" stroke-width="1.2" fill="none"/>
<path d="M125.62,417.10L127.82,419.30M125.62,419.30L127.82,417.10" stroke="#e040c0" stroke-width="1.2" fill="none"/>
<path d="M170.68,405.60L172.88,407.80M170.68,407.80L172.88,405.60" stroke="#e040c0" stroke-width="1.2" fill="none"/>
<path d="M215.74,397.90L217.94,400.10M215.74,400.10L217.94,397.90" stroke="#e040c0" stroke-width="1.2" fill="none"/>
<path d="M260.80,383.80L263.00,386.00M260.80,386.00L263.00,383.80" stroke="#e040c0" stroke-width="1.2" fill="none"/>
<path d="M305.86,375.70L308.06,377.90M305.86,377.90L308.06,375.70" stroke="#e040c0" stroke-width="1.2" fill="none"/>
<path d="M350.92,372.60L353.12,374.80M350.92,374.80L353.12,372.60" stroke="#e040c0" stroke-width="1.2" fill="none"/>
<path d="M395.98,368.30L398.18,370.50M395.98,370.50L398.18,368.30" stroke="#e040c0" stroke-width="1.2" fill="none"/>
<path d="M441.04,365.40L443.24,367.60M441.04,367.60L443.24,365.40" stroke="#e040c0" stroke-width="1.2" fill="none"/>
<path d="M486.10,361.50L488.30,363.70M486.10,363.70L488.30,361.50" stroke="#e040c0" stroke-width="1.2" fill="none"/>
<path d="M531.16,355.70L533.36,357.90M531.16,357.90L533.36,355.70" stroke="#e040c0" stroke-width="1.2" fill="none"/>
<path d="M576.22,352.30L578.42,354.50M576.22,354.50L578.42,352.30" stroke="#e040c0" stroke-width="1.2" fill="none"/>
<path d="M621.28,346.70L623.48,348.90M621.28,348.90L623.48,346.70" stroke="#e040c0" stroke-width="1.2" fill="none"/>
<path d="M666.34,342.30L668.54,344.50M666.34,344.50L668.54,342.30" stroke="#e040c0" stroke-width="1.2" fill="none"/>
<path d="M35.50,445.70L37.70,447.90M35.50,447.90L37.70,445.70" stroke="#1f77b4" stroke-width="1.2" fill="none"/>
<path d="M80.56,428.80L82.76,431.00M80.56,431.00L82.76,428.80" stroke="#1f77b4" stroke-width="1.2" fill="none"/>
<path d="M125.62,413.30L127.82,415.50M125.62,415.50L127.82,413.30" stroke="#1f77b4" stroke-width="1.2" fill="none"/>
<path d="M170.68,399.50L172.88,401.70M170.68,401.70L172.88,399.50" stroke="#1f77b4" stroke-width="1.2" fill="none"/>
<path d="M215.74,390.90L217.94,393.10M215.74,393.10L217.94,390.90" stroke="#1f77b4" stroke-width="1.2" fill="none"/>
<path d="M260.80,380.70L263.00,382.90M260.80,382.90L263.00,380.70" stroke="#1f77b4" stroke-width="1.2" fill="none"/>
<path d="M305.86,372.40L308.06,374.60M305.86,374.60L308.06,372.40" stroke="#1f77b4" stroke-width="1.2" fill="none"/>
<path d="M350.92,369.80L353.12,372.00M350.92,372.00L353.12,369.80" stroke="#1f77b4" stroke-width="1.2" fill="none"/>
<path d="M395.98,365.40L398.18,367.60M395.98,367.60L398.18,365.40" stroke="#1f77b4" stroke-width="1.2" fill="none"/>
<path d="M441.04,363.30L443.24,365.50M441.04,365.50L443.24,363.30" stroke="#1f77b4" stroke-width="1.2" fill="none"/>
<path d="M486.10,359.50L488.30,361.70M486.10,361.70L488.30,359.50" stroke="#1f77b4" stroke-width="1.2" fill="none"/>
<path d="M531.16,354.40L533.36,356.60M531.16,356.60L533.36,354.40" stroke="#1f77b4" stroke-width="1.2" fill="none"/>
<path d="M576.22,350.50L578.42,352.70M576.22,352.70L578.42,350.50" stroke="#1f77b4" stroke-width="1.2" fill="none"/>
<path d="M621.28,345.50L623.48,347.70M621.28,347.70L623.48,345.50" stroke="#1f77b4" stroke-width="1.2" fill="none"/>
<path d="M666.34,340.90L668.54,343.10M666.34,343.10L668.54,340.90" stroke="#1f77b4" stroke-width="1.2" fill="none"/>
<circle cx="531.8" cy="354.3" r="3.7" fill="none" stroke="#ff0000" stroke-width="1.1"/>
</g>
<line x1="36.6" y1="316.5" x2="36.6" y2="570.65" stroke="#000" stroke-width="0.7"/>
<line x1="36.25" y1="570.3" x2="677.9" y2="570.3" stroke="#000" stroke-width="0.7"/>
<line x1="35.2" y1="565.49" x2="36.6" y2="565.49" stroke="#000" stroke-width="0.6"/>
<line x1="35.2" y1="555.03" x2="36.6" y2="555.03" stroke="#000" stroke-width="0.6"/>
<line x1="35.2" y1="546.91" x2="36.6" y2="546.91" stroke="#000" stroke-width="0.6"/>
<line x1="35.2" y1="540.28" x2="36.6" y2="540.28" stroke="#000" stroke-width="0.6"/>
<line x1="35.2" y1="534.67" x2="36.6" y2="534.67" stroke="#000" stroke-width="0.6"/>
<line x1="35.2" y1="529.82" x2="36.6" y2="529.82" stroke="#000" stroke-width="0.6"/>
<line x1="35.2" y1="525.53" x2="36.6" y2="525.53" stroke="#000" stroke-width="0.6"/>
<line x1="34.3" y1="521.7" x2="36.6" y2="521.7" stroke="#000" stroke-width="0.6"/>
<line x1="35.2" y1="496.49" x2="36.6" y2="496.49" stroke="#000" stroke-width="0.6"/>
<line x1="35.2" y1="481.74" x2="36.6" y2="481.74" stroke="#000" stroke-width="0.6"/>
<line x1="35.2" y1="471.28" x2="36.6" y2="471.28" stroke="#000" stroke-width="0.6"/>
<line x1="35.2" y1="463.16" x2="36.6" y2="463.16" stroke="#000" stroke-width="0.6"/>
<line x1="35.2" y1="456.53" x2="36.6" y2="456.53" stroke="#000" stroke-width="0.6"/>
<line x1="35.2" y1="450.92" x2="36.6" y2="450.92" stroke="#000" stroke-width="0.6"/>
<line x1="35.2" y1="446.07" x2="36.6" y2="446.07" stroke="#000" stroke-width="0.6"/>
<line x1="35.2" y1="441.78" x2="36.6" y2="441.78" stroke="#000" stroke-width="0.6"/>
<line x1="34.3" y1="437.95" x2="36.6" y2="437.95" stroke="#000" stroke-width="0.6"/>
<line x1="35.2" y1="412.74" x2="36.6" y2="412.74" stroke="#000" stroke-width="0.6"/>
<line x1="35.2" y1="397.99" x2="36.6" y2="397.99" stroke="#000" stroke-width="0.6"/>
<line x1="35.2" y1="387.53" x2="36.6" y2="387.53" stroke="#000" stroke-width="0.6"/>
<line x1="35.2" y1="379.41" x2="36.6" y2="379.41" stroke="#000" stroke-width="0.6"/>
<line x1="35.2" y1="372.78" x2="36.6" y2="372.78" stroke="#000" stroke-width="0.6"/>
<line x1="35.2" y1="367.17" x2="36.6" y2="367.17" stroke="#000" stroke-width="0.6"/>
<line x1="35.2" y1="362.32" x2="36.6" y2="362.32" stroke="#000" stroke-width="0.6"/>
<line x1="35.2" y1="358.03" x2="36.6" y2="358.03" stroke="#000" stroke-width="0.6"/>
<line x1="34.3" y1="354.2" x2="36.6" y2="354.2" stroke="#000" stroke-width="0.6"/>
<line x1="35.2" y1="328.99" x2="36.6" y2="328.99" stroke="#000" stroke-width="0.6"/>
<line x1="36.6" y1="570.3" x2="36.6" y2="572.6" stroke="#000" stroke-width="0.6"/>
<line x1="113.3" y1="570.3" x2="113.3" y2="571.7" stroke="#000" stroke-width="0.6"/>
<line x1="158.17" y1="570.3" x2="158.17" y2="571.7" stroke="#000" stroke-width="0.6"/>
<line x1="190" y1="570.3" x2="190" y2="571.7" stroke="#000" stroke-width="0.6"/>
<line x1="214.7" y1="570.3" x2="214.7" y2="571.7" stroke="#000" stroke-width="0.6"/>
<line x1="234.87" y1="570.3" x2="234.87" y2="571.7" stroke="#000" stroke-width="0.6"/>
<line x1="251.93" y1="570.3" x2="251.93" y2="571.7" stroke="#000" stroke-width="0.6"/>
<line x1="266.71" y1="570.3" x2="266.71" y2="571.7" stroke="#000" stroke-width="0.6"/>
<line x1="279.74" y1="570.3" x2="279.74" y2="571.7" stroke="#000" stroke-width="0.6"/>
<line x1="291.4" y1="570.3" x2="291.4" y2="572.6" stroke="#000" stroke-width="0.6"/>
<line x1="368.1" y1="570.3" x2="368.1" y2="571.7" stroke="#000" stroke-width="0.6"/>
<line x1="412.97" y1="570.3" x2="412.97" y2="571.7" stroke="#000" stroke-width="0.6"/>
<line x1="444.8" y1="570.3" x2="444.8" y2="571.7" stroke="#000" stroke-width="0.6"/>
<line x1="469.5" y1="570.3" x2="469.5" y2="571.7" stroke="#000" stroke-width="0.6"/>
<line x1="489.67" y1="570.3" x2="489.67" y2="571.7" stroke="#000" stroke-width="0.6"/>
<line x1="506.73" y1="570.3" x2="506.73" y2="571.7" stroke="#000" stroke-width="0.6"/>
<line x1="521.51" y1="570.3" x2="521.51" y2="571.7" stroke="#000" stroke-width="0.6"/>
<line x1="534.54" y1="570.3" x2="534.54" y2="571.7" stroke="#000" stroke-width="0.6"/>
<line x1="546.2" y1="570.3" x2="546.2" y2="572.6" stroke="#000" stroke-width="0.6"/>
<line x1="622.9" y1="570.3" x2="622.9" y2="571.7" stroke="#000" stroke-width="0.6"/>
<line x1="667.77" y1="570.3" x2="667.77" y2="571.7" stroke="#000" stroke-width="0.6"/>
<text transform="translate(22.8,357.55) scale(1.0895,1)" x="-9.74 -4.6" y="0" font-size="9.24" fill="#000">10</text>
<text transform="translate(24.3,354.7) scale(1.2314,1)" x="-0.32 3.45" y="0" font-size="6.47" fill="#000">−3</text>
<text transform="translate(22.8,441.3) scale(1.0895,1)" x="-9.74 -4.6" y="0" font-size="9.24" fill="#000">10</text>
<text transform="translate(24.3,438.45) scale(1.2314,1)" x="-0.32 3.45" y="0" font-size="6.47" fill="#000">−4</text>
<text transform="translate(22.8,525.05) scale(1.0895,1)" x="-9.74 -4.6" y="0" font-size="9.24" fill="#000">10</text>
<text transform="translate(24.3,522.2) scale(1.2314,1)" x="-0.32 3.45" y="0" font-size="6.47" fill="#000">−5</text>
<text transform="translate(36.8,581.6) scale(1.0895,1)" x="-9.74 -4.6" y="0" font-size="9.24" fill="#000">10</text>
<text transform="translate(38.1,577.8) scale(1.2314,1)" x="-0.32 3.45" y="0" font-size="6.47" fill="#000">−6</text>
<text transform="translate(291.6,581.6) scale(1.0895,1)" x="-9.74 -4.6" y="0" font-size="9.24" fill="#000">10</text>
<text transform="translate(292.9,577.8) scale(1.2314,1)" x="-0.32 3.45" y="0" font-size="6.47" fill="#000">−5</text>
<text transform="translate(546.4,581.6) scale(1.0895,1)" x="-9.74 -4.6" y="0" font-size="9.24" fill="#000">10</text>
<text transform="translate(547.7,577.8) scale(1.2314,1)" x="-0.32 3.45" y="0" font-size="6.47" fill="#000">−4</text>
<text transform="translate(357.4,592.5) scale(1.0949,1)" x="-70.23 -63.65 -58.42 -53.62 -51.48 -46.35 -40.8 -37.73 -35.52 -30.28 -25.03 -22.59 -18.03 -12.71 -7.6 -2.71 0.36 2.9 5.86 11.49 14.57 16.68 21.9 27.23 30.01 33.23 38.77 41.65 46.9 49.6 52.61 56.97 61.63 66.55" y="0" font-size="9.63" fill="#000">Nucleotide substitution rate (ssy)</text>
<text transform="translate(7.3,443.85) rotate(-90) scale(1.0883,1)" x="-68.26 -61.21 -56.07 -51.55 -46.15 -42.73 -37.92 -32.65 -27.3 -24.83 -20.24 -14.89 -9.75 -4.84 -1.75 0.81 3.79 9.45 12.54 14.68 19.93 25.28 28.08 31.32 36.9 39.8 45.07 47.79 50.82 55.21 59.9 64.84" y="0" font-size="9.63" fill="#000">Observed substitution rate (ssy)</text>
<text transform="translate(5.3,311) scale(0.9678,1)" x="-0.47" y="0" font-size="9.66" font-weight="bold" fill="#000">C</text>
<rect x="424.5" y="482.6" width="248.8" height="82.4" rx="1.8" ry="1.8" fill="#fff" fill-opacity="0.8" stroke="#cccccc" stroke-width="0.7"/>
<rect x="427.9" y="486.4" width="18.9" height="6.9" fill="#f5f5f5"/>
<circle cx="437.3" cy="504.1" r="1.5" fill="#de9b28" fill-opacity="0.7"/>
<line x1="427.7" y1="516.6" x2="446.8" y2="516.6" stroke="#000" stroke-width="1.1"/>
<path d="M436.20,529.70L438.40,531.90M436.20,531.90L438.40,529.70" stroke="#e040c0" stroke-width="1.2" fill="none"/>
<path d="M436.20,543.10L438.40,545.30M436.20,545.30L438.40,543.10" stroke="#1f77b4" stroke-width="1.2" fill="none"/>
<circle cx="437.3" cy="557.7" r="3.7" fill="none" stroke="#ff0000" stroke-width="1.1"/>
<text transform="translate(454.4,493.3) scale(1.0239,1)" x="-0.96 5.11 11.02 17.24 23.31 26.18 32.84 38.11 43.87 47.27 52.88 55.42 62.32 68.01 74.68 77.62 80.11 82.84 86.02 88.86 91.79 97.38 103.22 106.38 111.88 114.88 118.39 123.98 129.66 135.25" y="0" font-size="9.63" fill="#000">SARS-CoV-2 OSR lit. data range</text>
<text transform="translate(454.4,506.8) scale(1.0655,1)" x="-1.34 4.43 9.43 12.58 15.02 23.19 28.85 31.85 37.22 42.66 45.01 51.66 57.12 63.62 66.27 69.46 72 76.77 79.09 84.55 90.08 92.32 97.67 100.21 104.99 107.43 115.69 121.22 123.44 129.11 132.26 134.48 139.84" y="0" font-size="9.63" fill="#000">Estimated OSR - single simulation</text>
<text transform="translate(454.4,520.3) scale(1.0812,1)" x="-1.33 3.54 6.11 9.44 12.37 17.67 23.05 25.67 30.91 35.84 41.22 43.83 48.58 54.08 57.53 62.38" y="0" font-size="9.63" fill="#000">Fitted exp curve</text>
<text transform="translate(454.4,533.8) scale(1.0683,1)" x="-0.96 5.46 10.93 19.17 24.7 27 32.36 37.73 43.15 46.2 49.18 54.67 62.91 68.28 73.42 78.41 81.46 84.32 87.46 92.83 98.39 101.53 106.68 111.15 115.92 118.13 123.47 128.9 131.56 136.71 141.7 144.84 147.27 155.42 161.07 164.05 169.4 172.05 177.52 180.4 182.73 189.37 194.81" y="0" font-size="9.63" fill="#000">Combined tempest regression estimate of OSR</text>
<text transform="translate(454.4,547.3) scale(1.0694,1)" x="-1.15 6.52 11.78 17.13 22.55 25.19 30.67 33.54 36.2 41.34 46.33 49.47 51.89 60.03 65.68 68.66 74.02 79.44 81.77 88.4 93.84 100.32 103.09 106.19 110.95 113.25 118.69 124.21 126.43 131.77 134.3 139.06 141.49 149.72 155.24 157.45 163.09 166.23 168.44 173.78 179 183.71" y="0" font-size="9.63" fill="#000">Mean of estimated OSR (single simulations)</text>
<text transform="translate(454.4,560.8) scale(1.0436,1)" x="-1.05 5.29 10.86 17.54 20.07 26.85 32.42 39.01 41.85 47.2 51.92 57.41 62.94 65.88 68.77 74.34 77.81 80.57 85.99 91.11 96.6 102.18 105.74 108.3 116.62 122.11 127.95 130.9" y="0" font-size="9.63" fill="#000">NSR/OSR used for experiments</text>
</svg>
</body></html>
